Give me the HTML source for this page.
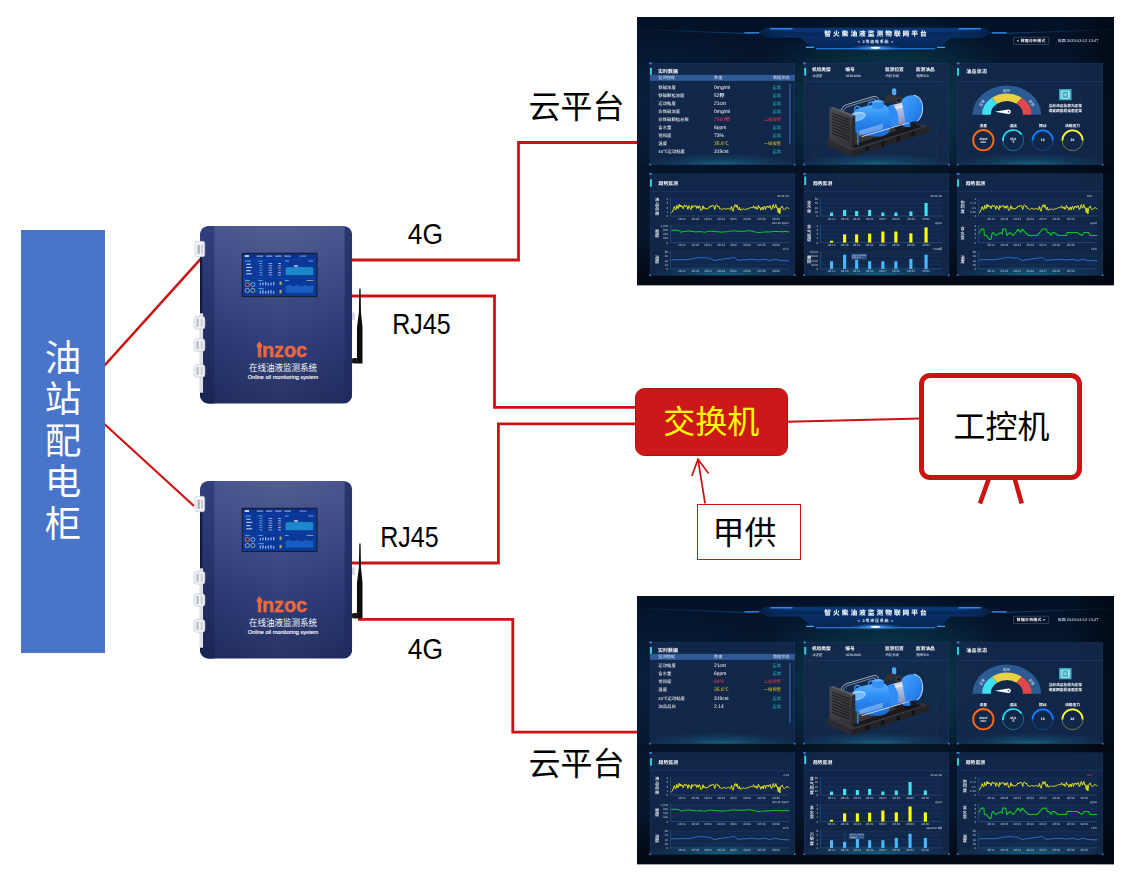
<!DOCTYPE html><html lang="zh-CN"><head><meta charset="utf-8"><title>在线油液监测系统</title><style>
html,body{margin:0;padding:0;background:#fff}
body{width:1129px;height:878px;overflow:hidden;position:relative;font-family:"Liberation Sans","Noto Sans CJK SC",sans-serif}
svg text{font-family:"Liberation Sans","Noto Sans CJK SC",sans-serif}
.abs{position:absolute}
.lbl{position:absolute;color:#000;white-space:nowrap;line-height:1}
.dash{position:absolute;width:1920px;height:1080px;transform-origin:0 0;transform:scale(0.24844);overflow:hidden;background:#04142a;color:#fff;text-rendering:geometricPrecision}
.dash .bg{position:absolute;left:0;top:0;width:1920px;height:1080px;
 background:
  radial-gradient(ellipse 560px 360px at 1000px 340px, rgba(24,135,140,.42), rgba(22,120,130,0) 100%),
  radial-gradient(ellipse 420px 300px at 120px 330px, rgba(14,50,90,.35), rgba(14,50,90,0) 100%),
  linear-gradient(to right, rgba(0,0,0,0) 90%, rgba(1,5,12,.55) 98.5%),
  linear-gradient(to bottom, #031126 0%, #04142b 12%, #06182f 30%, #06162c 80%, #030a16 96.5%)}
.dash .hd{position:absolute;left:0;top:0}
.dash .ov{position:absolute;left:0;top:0;overflow:visible}
.dash .title{position:absolute;left:0;top:46px;width:1920px;text-align:center;font-size:27px;font-weight:bold;letter-spacing:8px;text-indent:8px;line-height:40px;color:#fff;text-shadow:0 0 5px rgba(120,190,255,.45)}
.dash .sub{position:absolute;left:0;top:90px;width:1920px;text-align:center;font-size:16px;font-weight:bold;letter-spacing:3px;text-indent:3px;line-height:20px;color:#e8f2ff}
.dash .btn{position:absolute;left:1515px;top:81px;width:141px;height:28px;border:1.5px solid #b9c8e0;border-radius:3px;font-size:15.5px;font-weight:bold;line-height:28px;text-align:center;color:#fff;letter-spacing:1.2px}
.dash .date{position:absolute;left:1694px;top:85px;font-size:15.5px;letter-spacing:.3px;line-height:22px;color:#e4ecf8;white-space:nowrap}
.pn{position:absolute;box-sizing:border-box;border:1.5px solid #1f4c80;background:radial-gradient(ellipse 55% 11% at 50% 100%, rgba(26,150,170,.55) 0, rgba(22,120,150,.25) 50%, rgba(19,41,75,0) 100%), rgba(19,41,76,.88)}
.pn .c{position:absolute;width:7px;height:7px;background:#3b7dcb;border-radius:1px}
.pn .tl{left:-4px;top:-4px}.pn .tr{right:-4px;top:-4px}.pn .bl{left:-4px;bottom:-4px}.pn .br{right:-4px;bottom:-4px}
.bar{position:absolute;width:8px;height:30px;background:#30d2de}
.ttl{position:absolute;font-size:20px;font-weight:bold;line-height:28px;color:#fff;white-space:nowrap}
.dv{position:absolute;height:1.5px;background:#1d4477}
.th{position:absolute;height:24px;background:#2f5a96;font-size:17px;line-height:24px;color:#cfe0f7}
.th span{position:absolute;top:0;white-space:nowrap}
.tr{position:absolute;left:0;width:640px;height:24px;font-size:17.5px;line-height:24px;color:#fff}
.tr span{position:absolute;top:0;white-space:nowrap}
.ml{position:absolute;font-size:19px;font-weight:bold;line-height:22px;white-space:nowrap}
.ms{position:absolute;font-size:13.5px;line-height:18px;color:#e6edf8;white-space:nowrap}
.ax{font-size:12.5px;fill:#bcc8dc}
.un{font-size:11.5px;fill:#d5deee}
.vl{font-weight:500;fill:#fff}
</style></head><body>
<svg class="abs" style="left:0;top:0" width="1129" height="878" viewBox="0 0 1129 878">
<polyline points="350.0,260.0 518.5,260.0 518.5,142.5 640.0,142.5" fill="none" stroke="#cc1212" stroke-width="2.8" stroke-linejoin="miter"/>
<polyline points="350.0,296.0 494.5,296.0 494.5,407.3 640.0,407.3" fill="none" stroke="#cc1212" stroke-width="2.8" stroke-linejoin="miter"/>
<polyline points="350.0,563.0 498.4,563.0 498.4,423.8 640.0,423.8" fill="none" stroke="#cc1212" stroke-width="2.8" stroke-linejoin="miter"/>
<polyline points="358.0,619.3 512.8,619.3 512.8,732.2 640.0,732.2" fill="none" stroke="#cc1212" stroke-width="2.8" stroke-linejoin="miter"/>
<line x1="100" y1="370.5" x2="202.3" y2="257.2" stroke="#cc1212" stroke-width="2.6"/>
<line x1="100" y1="420" x2="194" y2="506" stroke="#cc1212" stroke-width="2.2"/>
<line x1="787" y1="421.7" x2="921" y2="418.6" stroke="#cc1212" stroke-width="2"/>
<polyline points="705.1,503.5 698,459.5" fill="none" stroke="#cc1212" stroke-width="1.7"/>
<polyline points="691.9,475.9 698,459.3 708.6,473.5" fill="none" stroke="#cc1212" stroke-width="1.7" stroke-linejoin="miter"/>
<line x1="988.7" y1="479" x2="980" y2="503.5" stroke="#cc1212" stroke-width="4.6"/>
<line x1="1014.8" y1="479" x2="1021.7" y2="503.5" stroke="#cc1212" stroke-width="4.6"/>
</svg>
<div class="abs" style="left:21px;top:230px;width:84px;height:423px;background:#4874c9"></div>
<div class="abs" style="left:21px;top:337.5px;width:84px;text-align:center;color:#fff;font-size:36.5px;line-height:41.6px">油<br>站<br>配<br>电<br>柜</div>
<svg style="position:absolute;left:188.46px;top:219.64px" width="181.05" height="190.61" viewBox="-12 -6 182 192" preserveAspectRatio="none"><defs><linearGradient id="dba" x1="0" y1="0" x2="0" y2="1"><stop offset="0" stop-color="#4a568e"/><stop offset=".3" stop-color="#3b4985"/><stop offset=".65" stop-color="#2a3874"/><stop offset="1" stop-color="#212c5e"/></linearGradient><linearGradient id="dsa" x1="0" y1="0" x2="0" y2="1"><stop offset="0" stop-color="#31407e"/><stop offset="1" stop-color="#1b2554"/></linearGradient><linearGradient id="dha" x1="0" y1="0" x2="1" y2="0"><stop offset="0" stop-color="#fff" stop-opacity="0"/><stop offset=".5" stop-color="#fff" stop-opacity=".04"/><stop offset="1" stop-color="#fff" stop-opacity="0"/></linearGradient><clipPath id="dca"><rect x="0" y="0" width="153" height="179" rx="9" ry="9"/></clipPath></defs><polygon points="160.2,63 161.5,63 161.9,87 163.4,102 163.4,138.6 157.8,138.6 157.9,102 159.8,87" fill="#0e0c0d"/><rect x="152.5" y="133" width="7" height="5.6" rx="2.2" fill="#1a1718"/><rect x="152.8" y="87" width="3" height="7.5" fill="#d5d8e0"/><g clip-path="url(#dca)"><rect x="0" y="0" width="153" height="179" fill="url(#dba)"/><rect x="0" y="0" width="14.5" height="179" fill="url(#dsa)"/><rect x="0" y="30" width="2.2" height="140" fill="#10183c"/><rect x="145.5" y="0" width="7.5" height="179" fill="#1f2b62" opacity=".75"/><rect x="14.5" y="0" width="131" height="179" fill="url(#dha)"/></g><rect x="-0.5" y="88" width="3.6" height="80" fill="#dfe2ea"/><rect x="-5" y="15.5" width="9.8" height="15.5" rx="2" fill="#f1f2f6" stroke="#c3c7d1" stroke-width=".6"/><rect x="-2.4" y="19" width="2.2" height="9" fill="#a9aebb"/><rect x="1" y="19" width="2" height="9" fill="#c9ccd6"/><rect x="-6" y="91.0" width="11" height="13" rx="3" fill="#eef0f4" stroke="#c3c7d1" stroke-width=".6"/><rect x="-3.4" y="93.5" width="2" height="8" fill="#b3b8c4"/><rect x="0.6" y="93.5" width="2.4" height="8" fill="#cfd3dc"/><rect x="-6" y="113.5" width="11" height="13" rx="3" fill="#eef0f4" stroke="#c3c7d1" stroke-width=".6"/><rect x="-3.4" y="116.0" width="2" height="8" fill="#b3b8c4"/><rect x="0.6" y="116.0" width="2.4" height="8" fill="#cfd3dc"/><rect x="-6" y="139.5" width="11" height="13" rx="3" fill="#eef0f4" stroke="#c3c7d1" stroke-width=".6"/><rect x="-3.4" y="142.0" width="2" height="8" fill="#b3b8c4"/><rect x="0.6" y="142.0" width="2.4" height="8" fill="#cfd3dc"/><rect x="42" y="27" width="76.3" height="44.6" fill="#1a1d2c"/><rect x="43.2" y="28.2" width="73.9" height="42.2" fill="#0c3fa3"/><rect x="43.2" y="28.2" width="73.9" height="4.4" fill="#0a3292"/><rect x="45" y="29.4" width="4.4" height="1.8" fill="#e7eefc" opacity=".9"/><rect x="57.0" y="29.8" width="6.5" height="1.2" fill="#b8cdf3" opacity=".75"/><rect x="66.3" y="29.8" width="6.5" height="1.2" fill="#b8cdf3" opacity=".75"/><rect x="75.6" y="29.8" width="6.5" height="1.2" fill="#b8cdf3" opacity=".75"/><rect x="84.9" y="29.8" width="6.5" height="1.2" fill="#b8cdf3" opacity=".75"/><rect x="100" y="29.8" width="7" height="1.2" fill="#9dd0ff" opacity=".6"/><rect x="44.6" y="33.8" width="11.6" height="17.8" fill="#0b3898"/><rect x="44.6" y="53.4" width="11.6" height="15.6" fill="#0b3898"/><rect x="57.6" y="33.8" width="25.4" height="17.8" fill="#0b3898"/><rect x="57.6" y="53.4" width="25.4" height="7.2" fill="#0b3898"/><rect x="57.6" y="61.8" width="25.4" height="7.2" fill="#0b3898"/><rect x="84.4" y="33.8" width="31.4" height="17.8" fill="#0b3898"/><rect x="84.4" y="53.4" width="31.4" height="15.6" fill="#0b3898"/><rect x="45.4" y="34.8" width="6" height="1.1" fill="#49c6e8" opacity=".8"/><rect x="58.6" y="34.8" width="4.5" height="1.1" fill="#49c6e8" opacity=".8"/><rect x="85.4" y="34.8" width="4" height="1.1" fill="#49c6e8" opacity=".8"/><rect x="45.4" y="54.4" width="5" height="1.1" fill="#49c6e8" opacity=".8"/><rect x="58.6" y="54.4" width="4.5" height="1.1" fill="#49c6e8" opacity=".8"/><rect x="85.4" y="54.4" width="4" height="1.1" fill="#49c6e8" opacity=".8"/><rect x="58.6" y="62.6" width="5.5" height="1.1" fill="#49c6e8" opacity=".8"/><rect x="46.5" y="38.0" width="4.5" height="1.2" fill="#dbe8ff" opacity=".8"/><rect x="46.5" y="41.2" width="6.0" height="1.2" fill="#dbe8ff" opacity=".8"/><rect x="46.5" y="44.4" width="4.5" height="1.2" fill="#dbe8ff" opacity=".8"/><rect x="46.5" y="47.6" width="6.0" height="1.2" fill="#dbe8ff" opacity=".8"/><rect x="59.5" y="37.4" width="3.4" height=".9" fill="#9fd4ff" opacity=".6"/><rect x="69" y="37.4" width="3.6" height=".9" fill="#e8f0ff" opacity=".65"/><rect x="78.6" y="37.4" width="2.8" height=".9" fill="#dfe9ff" opacity=".8"/><rect x="59.5" y="39.7" width="3.4" height=".9" fill="#9fd4ff" opacity=".6"/><rect x="69" y="39.7" width="3.6" height=".9" fill="#e8f0ff" opacity=".65"/><rect x="78.6" y="39.7" width="2.8" height=".9" fill="#dfe9ff" opacity=".8"/><rect x="59.5" y="42.0" width="3.4" height=".9" fill="#9fd4ff" opacity=".6"/><rect x="69" y="42.0" width="3.6" height=".9" fill="#e8f0ff" opacity=".65"/><rect x="78.6" y="42.0" width="2.8" height=".9" fill="#ffe24a" opacity=".8"/><rect x="59.5" y="44.3" width="3.4" height=".9" fill="#9fd4ff" opacity=".6"/><rect x="69" y="44.3" width="3.6" height=".9" fill="#e8f0ff" opacity=".65"/><rect x="78.6" y="44.3" width="2.8" height=".9" fill="#ff6a6a" opacity=".8"/><rect x="59.5" y="46.6" width="3.4" height=".9" fill="#9fd4ff" opacity=".6"/><rect x="69" y="46.6" width="3.6" height=".9" fill="#e8f0ff" opacity=".65"/><rect x="78.6" y="46.6" width="2.8" height=".9" fill="#dfe9ff" opacity=".8"/><rect x="59.5" y="48.9" width="3.4" height=".9" fill="#9fd4ff" opacity=".6"/><rect x="69" y="48.9" width="3.6" height=".9" fill="#e8f0ff" opacity=".65"/><rect x="78.6" y="48.9" width="2.8" height=".9" fill="#dfe9ff" opacity=".8"/><rect x="60.0" y="57.4" width="1.3" height="2.4" fill="#a9c8ff" opacity=".85"/><rect x="60.0" y="65.1" width="1.3" height="3.1" fill="#a9c8ff" opacity=".85"/><rect x="62.7" y="56.9" width="1.3" height="2.9" fill="#a9c8ff" opacity=".85"/><rect x="62.7" y="64.6" width="1.3" height="3.6" fill="#a9c8ff" opacity=".85"/><rect x="65.4" y="56.4" width="1.3" height="3.4" fill="#a9c8ff" opacity=".85"/><rect x="65.4" y="65.6" width="1.3" height="2.6" fill="#a9c8ff" opacity=".85"/><rect x="68.1" y="57.4" width="1.3" height="2.4" fill="#a9c8ff" opacity=".85"/><rect x="68.1" y="65.1" width="1.3" height="3.1" fill="#a9c8ff" opacity=".85"/><rect x="70.8" y="56.9" width="1.3" height="2.9" fill="#a9c8ff" opacity=".85"/><rect x="70.8" y="64.6" width="1.3" height="3.6" fill="#a9c8ff" opacity=".85"/><rect x="73.5" y="56.4" width="1.3" height="3.4" fill="#a9c8ff" opacity=".85"/><rect x="73.5" y="65.6" width="1.3" height="2.6" fill="#a9c8ff" opacity=".85"/><rect x="80" y="56" width="2" height="3.4" fill="#ffe24a" opacity=".7"/><rect x="80" y="64.4" width="2" height="3.4" fill="#ffe24a" opacity=".7"/><circle cx="47.7" cy="59" r="2.1" fill="none" stroke="#ff7a3c" stroke-width=".9" opacity=".9"/><circle cx="53.2" cy="59" r="2.1" fill="none" stroke="#bcd8ff" stroke-width=".8" opacity=".8"/><circle cx="47.7" cy="65" r="2.1" fill="none" stroke="#d8e6ff" stroke-width=".8" opacity=".8"/><circle cx="53.2" cy="65" r="2.1" fill="none" stroke="#f1e27a" stroke-width=".8" opacity=".8"/><polygon points="86,49.6 86,42 90,41.4 95,41.7 100,41.2 106,41.6 110,41.3 114,41.9 114,49.6" fill="#1e90cf" opacity=".9"/><polygon points="86,67.4 86,60.6 90,59.6 94,60.8 98,59.4 102,60.9 106,59.6 110,60.6 114,59.8 114,67.4" fill="#1a63c4" opacity=".9"/><rect x="94.5" y="39.7" width="4" height="1.2" fill="#fff" opacity=".95"/><rect x="109" y="34.8" width="5" height="1" fill="#cfe0ff" opacity=".6"/><rect x="107" y="54.4" width="7" height="1" fill="#e9dc7a" opacity=".6"/><path d="M59.8 116.2 C62 118.8 62.6 119.8 62.6 120.7 A2.8 2.2 0 0 1 57 120.7 C57 119.8 57.6 118.8 59.8 116.2 Z" fill="#f0683c"/><text x="56.8" y="132.3" font-weight="bold" font-size="20.6" fill="#f0683c" stroke="#f0683c" stroke-width=".35" textLength="51" lengthAdjust="spacingAndGlyphs">ınzoc</text><text x="83.5" y="146.2" text-anchor="middle" font-size="8.6" font-weight="400" fill="#f4f6fb" textLength="68.5" lengthAdjust="spacingAndGlyphs">在线油液监测系统</text><text x="83.5" y="154" text-anchor="middle" font-size="5.6" fill="#fff" stroke="#fff" stroke-width=".12" textLength="71" lengthAdjust="spacingAndGlyphs">Online oil monitoring system</text></svg>
<svg style="position:absolute;left:188.46px;top:474.64px" width="181.05" height="190.61" viewBox="-12 -6 182 192" preserveAspectRatio="none"><defs><linearGradient id="dbb" x1="0" y1="0" x2="0" y2="1"><stop offset="0" stop-color="#4a568e"/><stop offset=".3" stop-color="#3b4985"/><stop offset=".65" stop-color="#2a3874"/><stop offset="1" stop-color="#212c5e"/></linearGradient><linearGradient id="dsb" x1="0" y1="0" x2="0" y2="1"><stop offset="0" stop-color="#31407e"/><stop offset="1" stop-color="#1b2554"/></linearGradient><linearGradient id="dhb" x1="0" y1="0" x2="1" y2="0"><stop offset="0" stop-color="#fff" stop-opacity="0"/><stop offset=".5" stop-color="#fff" stop-opacity=".04"/><stop offset="1" stop-color="#fff" stop-opacity="0"/></linearGradient><clipPath id="dcb"><rect x="0" y="0" width="153" height="179" rx="9" ry="9"/></clipPath></defs><polygon points="160.2,63 161.5,63 161.9,87 163.4,102 163.4,138.6 157.8,138.6 157.9,102 159.8,87" fill="#0e0c0d"/><rect x="152.5" y="133" width="7" height="5.6" rx="2.2" fill="#1a1718"/><rect x="152.8" y="87" width="3" height="7.5" fill="#d5d8e0"/><g clip-path="url(#dcb)"><rect x="0" y="0" width="153" height="179" fill="url(#dbb)"/><rect x="0" y="0" width="14.5" height="179" fill="url(#dsb)"/><rect x="0" y="30" width="2.2" height="140" fill="#10183c"/><rect x="145.5" y="0" width="7.5" height="179" fill="#1f2b62" opacity=".75"/><rect x="14.5" y="0" width="131" height="179" fill="url(#dhb)"/></g><rect x="-0.5" y="88" width="3.6" height="80" fill="#dfe2ea"/><rect x="-5" y="15.5" width="9.8" height="15.5" rx="2" fill="#f1f2f6" stroke="#c3c7d1" stroke-width=".6"/><rect x="-2.4" y="19" width="2.2" height="9" fill="#a9aebb"/><rect x="1" y="19" width="2" height="9" fill="#c9ccd6"/><rect x="-6" y="91.0" width="11" height="13" rx="3" fill="#eef0f4" stroke="#c3c7d1" stroke-width=".6"/><rect x="-3.4" y="93.5" width="2" height="8" fill="#b3b8c4"/><rect x="0.6" y="93.5" width="2.4" height="8" fill="#cfd3dc"/><rect x="-6" y="113.5" width="11" height="13" rx="3" fill="#eef0f4" stroke="#c3c7d1" stroke-width=".6"/><rect x="-3.4" y="116.0" width="2" height="8" fill="#b3b8c4"/><rect x="0.6" y="116.0" width="2.4" height="8" fill="#cfd3dc"/><rect x="-6" y="139.5" width="11" height="13" rx="3" fill="#eef0f4" stroke="#c3c7d1" stroke-width=".6"/><rect x="-3.4" y="142.0" width="2" height="8" fill="#b3b8c4"/><rect x="0.6" y="142.0" width="2.4" height="8" fill="#cfd3dc"/><rect x="42" y="27" width="76.3" height="44.6" fill="#1a1d2c"/><rect x="43.2" y="28.2" width="73.9" height="42.2" fill="#0c3fa3"/><rect x="43.2" y="28.2" width="73.9" height="4.4" fill="#0a3292"/><rect x="45" y="29.4" width="4.4" height="1.8" fill="#e7eefc" opacity=".9"/><rect x="57.0" y="29.8" width="6.5" height="1.2" fill="#b8cdf3" opacity=".75"/><rect x="66.3" y="29.8" width="6.5" height="1.2" fill="#b8cdf3" opacity=".75"/><rect x="75.6" y="29.8" width="6.5" height="1.2" fill="#b8cdf3" opacity=".75"/><rect x="84.9" y="29.8" width="6.5" height="1.2" fill="#b8cdf3" opacity=".75"/><rect x="100" y="29.8" width="7" height="1.2" fill="#9dd0ff" opacity=".6"/><rect x="44.6" y="33.8" width="11.6" height="17.8" fill="#0b3898"/><rect x="44.6" y="53.4" width="11.6" height="15.6" fill="#0b3898"/><rect x="57.6" y="33.8" width="25.4" height="17.8" fill="#0b3898"/><rect x="57.6" y="53.4" width="25.4" height="7.2" fill="#0b3898"/><rect x="57.6" y="61.8" width="25.4" height="7.2" fill="#0b3898"/><rect x="84.4" y="33.8" width="31.4" height="17.8" fill="#0b3898"/><rect x="84.4" y="53.4" width="31.4" height="15.6" fill="#0b3898"/><rect x="45.4" y="34.8" width="6" height="1.1" fill="#49c6e8" opacity=".8"/><rect x="58.6" y="34.8" width="4.5" height="1.1" fill="#49c6e8" opacity=".8"/><rect x="85.4" y="34.8" width="4" height="1.1" fill="#49c6e8" opacity=".8"/><rect x="45.4" y="54.4" width="5" height="1.1" fill="#49c6e8" opacity=".8"/><rect x="58.6" y="54.4" width="4.5" height="1.1" fill="#49c6e8" opacity=".8"/><rect x="85.4" y="54.4" width="4" height="1.1" fill="#49c6e8" opacity=".8"/><rect x="58.6" y="62.6" width="5.5" height="1.1" fill="#49c6e8" opacity=".8"/><rect x="46.5" y="38.0" width="4.5" height="1.2" fill="#dbe8ff" opacity=".8"/><rect x="46.5" y="41.2" width="6.0" height="1.2" fill="#dbe8ff" opacity=".8"/><rect x="46.5" y="44.4" width="4.5" height="1.2" fill="#dbe8ff" opacity=".8"/><rect x="46.5" y="47.6" width="6.0" height="1.2" fill="#dbe8ff" opacity=".8"/><rect x="59.5" y="37.4" width="3.4" height=".9" fill="#9fd4ff" opacity=".6"/><rect x="69" y="37.4" width="3.6" height=".9" fill="#e8f0ff" opacity=".65"/><rect x="78.6" y="37.4" width="2.8" height=".9" fill="#dfe9ff" opacity=".8"/><rect x="59.5" y="39.7" width="3.4" height=".9" fill="#9fd4ff" opacity=".6"/><rect x="69" y="39.7" width="3.6" height=".9" fill="#e8f0ff" opacity=".65"/><rect x="78.6" y="39.7" width="2.8" height=".9" fill="#dfe9ff" opacity=".8"/><rect x="59.5" y="42.0" width="3.4" height=".9" fill="#9fd4ff" opacity=".6"/><rect x="69" y="42.0" width="3.6" height=".9" fill="#e8f0ff" opacity=".65"/><rect x="78.6" y="42.0" width="2.8" height=".9" fill="#ffe24a" opacity=".8"/><rect x="59.5" y="44.3" width="3.4" height=".9" fill="#9fd4ff" opacity=".6"/><rect x="69" y="44.3" width="3.6" height=".9" fill="#e8f0ff" opacity=".65"/><rect x="78.6" y="44.3" width="2.8" height=".9" fill="#ff6a6a" opacity=".8"/><rect x="59.5" y="46.6" width="3.4" height=".9" fill="#9fd4ff" opacity=".6"/><rect x="69" y="46.6" width="3.6" height=".9" fill="#e8f0ff" opacity=".65"/><rect x="78.6" y="46.6" width="2.8" height=".9" fill="#dfe9ff" opacity=".8"/><rect x="59.5" y="48.9" width="3.4" height=".9" fill="#9fd4ff" opacity=".6"/><rect x="69" y="48.9" width="3.6" height=".9" fill="#e8f0ff" opacity=".65"/><rect x="78.6" y="48.9" width="2.8" height=".9" fill="#dfe9ff" opacity=".8"/><rect x="60.0" y="57.4" width="1.3" height="2.4" fill="#a9c8ff" opacity=".85"/><rect x="60.0" y="65.1" width="1.3" height="3.1" fill="#a9c8ff" opacity=".85"/><rect x="62.7" y="56.9" width="1.3" height="2.9" fill="#a9c8ff" opacity=".85"/><rect x="62.7" y="64.6" width="1.3" height="3.6" fill="#a9c8ff" opacity=".85"/><rect x="65.4" y="56.4" width="1.3" height="3.4" fill="#a9c8ff" opacity=".85"/><rect x="65.4" y="65.6" width="1.3" height="2.6" fill="#a9c8ff" opacity=".85"/><rect x="68.1" y="57.4" width="1.3" height="2.4" fill="#a9c8ff" opacity=".85"/><rect x="68.1" y="65.1" width="1.3" height="3.1" fill="#a9c8ff" opacity=".85"/><rect x="70.8" y="56.9" width="1.3" height="2.9" fill="#a9c8ff" opacity=".85"/><rect x="70.8" y="64.6" width="1.3" height="3.6" fill="#a9c8ff" opacity=".85"/><rect x="73.5" y="56.4" width="1.3" height="3.4" fill="#a9c8ff" opacity=".85"/><rect x="73.5" y="65.6" width="1.3" height="2.6" fill="#a9c8ff" opacity=".85"/><rect x="80" y="56" width="2" height="3.4" fill="#ffe24a" opacity=".7"/><rect x="80" y="64.4" width="2" height="3.4" fill="#ffe24a" opacity=".7"/><circle cx="47.7" cy="59" r="2.1" fill="none" stroke="#ff7a3c" stroke-width=".9" opacity=".9"/><circle cx="53.2" cy="59" r="2.1" fill="none" stroke="#bcd8ff" stroke-width=".8" opacity=".8"/><circle cx="47.7" cy="65" r="2.1" fill="none" stroke="#d8e6ff" stroke-width=".8" opacity=".8"/><circle cx="53.2" cy="65" r="2.1" fill="none" stroke="#f1e27a" stroke-width=".8" opacity=".8"/><polygon points="86,49.6 86,42 90,41.4 95,41.7 100,41.2 106,41.6 110,41.3 114,41.9 114,49.6" fill="#1e90cf" opacity=".9"/><polygon points="86,67.4 86,60.6 90,59.6 94,60.8 98,59.4 102,60.9 106,59.6 110,60.6 114,59.8 114,67.4" fill="#1a63c4" opacity=".9"/><rect x="94.5" y="39.7" width="4" height="1.2" fill="#fff" opacity=".95"/><rect x="109" y="34.8" width="5" height="1" fill="#cfe0ff" opacity=".6"/><rect x="107" y="54.4" width="7" height="1" fill="#e9dc7a" opacity=".6"/><path d="M59.8 116.2 C62 118.8 62.6 119.8 62.6 120.7 A2.8 2.2 0 0 1 57 120.7 C57 119.8 57.6 118.8 59.8 116.2 Z" fill="#f0683c"/><text x="56.8" y="132.3" font-weight="bold" font-size="20.6" fill="#f0683c" stroke="#f0683c" stroke-width=".35" textLength="51" lengthAdjust="spacingAndGlyphs">ınzoc</text><text x="83.5" y="146.2" text-anchor="middle" font-size="8.6" font-weight="400" fill="#f4f6fb" textLength="68.5" lengthAdjust="spacingAndGlyphs">在线油液监测系统</text><text x="83.5" y="154" text-anchor="middle" font-size="5.6" fill="#fff" stroke="#fff" stroke-width=".12" textLength="71" lengthAdjust="spacingAndGlyphs">Online oil monitoring system</text></svg>
<div class="lbl" style="left:528.6px;top:91px;font-size:32px;line-height:32px">云平台</div>
<div class="lbl" style="left:528.4px;top:748px;font-size:32px;line-height:32px">云平台</div>
<svg class="abs" style="left:0;top:0" width="1129" height="878" viewBox="0 0 1129 878"><text x="407.8" y="244" font-size="29" textLength="35.2" lengthAdjust="spacingAndGlyphs">4G</text><text x="407.8" y="659.3" font-size="29" textLength="35.2" lengthAdjust="spacingAndGlyphs">4G</text><text x="392.2" y="333.9" font-size="29" textLength="58.4" lengthAdjust="spacingAndGlyphs">RJ45</text><text x="380.2" y="546.7" font-size="29" textLength="58.4" lengthAdjust="spacingAndGlyphs">RJ45</text></svg>
<div class="abs" style="left:635px;top:388px;width:152.5px;height:67.5px;box-sizing:border-box;background:#cc1818;border:1.5px solid #a51414;border-radius:9.5px;color:#ffff00;font-size:32px;line-height:66.5px;text-align:center">交换机</div>
<div class="abs" style="left:919px;top:373px;width:163px;height:107px;box-sizing:border-box;background:#fff;border:5px solid #cc1212;border-radius:11px;color:#000;font-size:32px;line-height:99px;text-align:center;text-indent:2px">工控机</div>
<div class="abs" style="left:696.5px;top:503.5px;width:104px;height:56px;box-sizing:border-box;background:#fff;border:1.6px solid #cc1212;color:#000;font-size:32px;line-height:56.5px;text-align:center;text-indent:-8px">甲供</div>
<div class="dash" style="left:637px;top:17px"><div class="bg"></div>
<div style="position:absolute;left:0;top:596px;width:1920px;height:34px;background:linear-gradient(to right, rgba(2,6,14,.15), rgba(2,6,14,.6))"></div>
<svg class="hd" width="1920" height="170" viewBox="0 0 1920 170"><defs><linearGradient id="hg" x1="0" y1="0" x2="0" y2="1"><stop offset="0" stop-color="#0a3a7c" stop-opacity=".95"/><stop offset="1" stop-color="#062658" stop-opacity=".85"/></linearGradient><linearGradient id="hm" x1="0" y1="0" x2="1" y2="0"><stop offset="0" stop-color="#fff" stop-opacity=".25"/><stop offset=".14" stop-color="#fff" stop-opacity="1"/><stop offset=".86" stop-color="#fff" stop-opacity="1"/><stop offset="1" stop-color="#fff" stop-opacity=".25"/></linearGradient><mask id="hk"><rect x="470" y="30" width="980" height="110" fill="url(#hm)"/></mask><linearGradient id="ll" x1="0" y1="0" x2="1" y2="0"><stop offset="0" stop-color="#1c5aa8" stop-opacity=".12"/><stop offset="1" stop-color="#2b7fe0" stop-opacity=".7"/></linearGradient><linearGradient id="lr" x1="1" y1="0" x2="0" y2="0"><stop offset="0" stop-color="#1c5aa8" stop-opacity=".12"/><stop offset="1" stop-color="#2b7fe0" stop-opacity=".7"/></linearGradient><radialGradient id="glow"><stop offset="0" stop-color="#eaf6ff"/><stop offset=".15" stop-color="#69b8ff" stop-opacity=".9"/><stop offset="1" stop-color="#1a6fe0" stop-opacity="0"/></radialGradient><filter id="bl"><feGaussianBlur stdDeviation="3"/></filter></defs><polygon points="524.0,43.0 1396.0,43.0 1430.0,62.0 1390.0,82.0 1262.0,82.0 1226.0,113.0 1200.0,128.0 720.0,128.0 694.0,113.0 658.0,82.0 530.0,82.0 490.0,62.0" fill="url(#hg)" mask="url(#hk)"/><polyline points="1430.0,62.0 1390.0,82.0 1262.0,82.0 1226.0,113.0 1200.0,128.0 720.0,128.0 694.0,113.0 658.0,82.0 530.0,82.0 490.0,62.0 524.0,43.0" fill="none" stroke="#1f6fd0" stroke-width="1.6" opacity=".45"/><polygon points="560.0,60.0 1360.0,60.0 1340.0,74.0 580.0,74.0" fill="#06224e" opacity=".55"/><line x1="0" y1="50" x2="432" y2="66" stroke="url(#ll)" stroke-width="2.5"/><line x1="1920" y1="50" x2="1488" y2="66" stroke="url(#lr)" stroke-width="2.5"/><line x1="432" y1="64" x2="492" y2="64" stroke="#2b8cff" stroke-width="7" filter="url(#bl)"/><line x1="432" y1="64" x2="492" y2="64" stroke="#3f9dff" stroke-width="5"/><line x1="1428" y1="64" x2="1488" y2="64" stroke="#2b8cff" stroke-width="7" filter="url(#bl)"/><line x1="1428" y1="64" x2="1488" y2="64" stroke="#3f9dff" stroke-width="5"/><line x1="536" y1="47" x2="626" y2="47" stroke="#2b8cff" stroke-width="8" filter="url(#bl)"/><line x1="536" y1="47" x2="626" y2="47" stroke="#2f86f0" stroke-width="6"/><line x1="1294" y1="47" x2="1384" y2="47" stroke="#2b8cff" stroke-width="8" filter="url(#bl)"/><line x1="1294" y1="47" x2="1384" y2="47" stroke="#2f86f0" stroke-width="6"/><line x1="680" y1="122" x2="712" y2="122" stroke="#35a8ff" stroke-width="5"/><line x1="1208" y1="122" x2="1240" y2="122" stroke="#35a8ff" stroke-width="5"/><line x1="720" y1="128" x2="1200" y2="128" stroke="#2b8cff" stroke-width="4"/><ellipse cx="960" cy="124" rx="110" ry="13" fill="url(#glow)" opacity=".85"/><ellipse cx="960" cy="124" rx="20" ry="4.5" fill="#f4fbff"/></svg>
<div class="title">智火柴油液监测物联网平台</div>
<div class="sub">&lt; 2号齿轮系统 &gt;</div>
<div class="btn">&lt; 数据分析模式</div>
<div class="date">周四 2023-02-12 13:47</div>
<div class="pn" style="left:52px;top:186px;width:584px;height:409px"><i class="c tl"></i><i class="c tr"></i><i class="c bl"></i><i class="c br"></i></div>
<div class="pn" style="left:672px;top:186px;width:584px;height:409px"><i class="c tl"></i><i class="c tr"></i><i class="c bl"></i><i class="c br"></i></div>
<div class="pn" style="left:1290px;top:186px;width:585px;height:409px"><i class="c tl"></i><i class="c tr"></i><i class="c bl"></i><i class="c br"></i></div>
<div class="pn" style="left:52px;top:631px;width:584px;height:409px"><i class="c tl"></i><i class="c tr"></i><i class="c bl"></i><i class="c br"></i></div>
<div class="pn" style="left:672px;top:631px;width:584px;height:409px"><i class="c tl"></i><i class="c tr"></i><i class="c bl"></i><i class="c br"></i></div>
<div class="pn" style="left:1290px;top:631px;width:585px;height:409px"><i class="c tl"></i><i class="c tr"></i><i class="c bl"></i><i class="c br"></i></div>
<div class="bar" style="left:52px;top:205px;height:28px"></div>
<div class="ttl" style="left:85px;top:206px">实时数据</div>
<div class="th" style="left:52px;top:233px;width:584px"><span style="left:34px">监测指标</span><span style="left:258px">数值</span><span style="right:21px">数据状态</span></div>
<div class="tr" style="top:271.0px"><span style="left:86px">铁磁浓度</span><span style="left:310px;color:#fff;font-size:20px">0mg/ml</span><span style="left:380px;width:200px;text-align:right;color:#20c9c9">正常</span></div>
<div class="tr" style="top:303.4px"><span style="left:86px">铁磁颗粒浓度</span><span style="left:310px;color:#fff;font-size:20px">52颗</span><span style="left:380px;width:200px;text-align:right;color:#20c9c9">正常</span></div>
<div class="tr" style="top:335.8px"><span style="left:86px">运动粘度</span><span style="left:310px;color:#fff;font-size:20px">21cst</span><span style="left:380px;width:200px;text-align:right;color:#20c9c9">正常</span></div>
<div class="tr" style="top:368.2px"><span style="left:86px">非铁磁浓度</span><span style="left:310px;color:#fff;font-size:20px">0mg/ml</span><span style="left:380px;width:200px;text-align:right;color:#20c9c9">正常</span></div>
<div class="tr" style="top:400.6px"><span style="left:86px">非铁磁颗粒总数</span><span style="left:310px;color:#e8364a;font-size:20px">2560颗</span><span style="left:380px;width:200px;text-align:right;color:#e8364a">二级报警</span></div>
<div class="tr" style="top:433.0px"><span style="left:86px">含水量</span><span style="left:310px;color:#fff;font-size:20px">6ppm</span><span style="left:380px;width:200px;text-align:right;color:#20c9c9">正常</span></div>
<div class="tr" style="top:465.4px"><span style="left:86px">饱和度</span><span style="left:310px;color:#fff;font-size:20px">73%</span><span style="left:380px;width:200px;text-align:right;color:#20c9c9">正常</span></div>
<div class="tr" style="top:497.8px"><span style="left:86px">温度</span><span style="left:310px;color:#e9c81e;font-size:20px">35.6℃</span><span style="left:380px;width:200px;text-align:right;color:#e9c81e">一级报警</span></div>
<div class="tr" style="top:530.2px"><span style="left:86px">40℃运动粘度</span><span style="left:310px;color:#fff;font-size:20px">319cst</span><span style="left:380px;width:200px;text-align:right;color:#20c9c9">正常</span></div>
<div style="position:absolute;left:612px;top:270px;width:6px;height:242px;background:#2c5aa0"></div>
<div class="bar" style="left:673px;top:205px;height:31px"></div>
<div class="ml" style="left:704px;top:201px">机组类型</div>
<div class="ms" style="left:706px;top:228px">水泥磨</div>
<div class="ml" style="left:838px;top:201px">编号</div>
<div class="ms" style="left:840px;top:228px">02304000</div>
<div class="ml" style="left:998px;top:201px">监测位置</div>
<div class="ms" style="left:1000px;top:228px">齿轮系统</div>
<div class="ml" style="left:1122px;top:201px">监测油品</div>
<div class="ms" style="left:1124px;top:228px">壳牌320</div>
<div class="dv" style="left:673px;top:258px;width:582px"></div>
<div style="position:absolute;left:710px;top:280px;width:496px;height:292px;border:1.5px solid #1e426e;box-sizing:border-box"></div>
<svg class="ov" width="1920" height="1080" viewBox="0 0 1920 1080"><defs><linearGradient id="mb" x1="0" y1="0" x2="0" y2="1"><stop offset="0" stop-color="#5fb2ff"/><stop offset=".4" stop-color="#2f8ff6"/><stop offset="1" stop-color="#1b68d2"/></linearGradient><linearGradient id="mm" x1="0" y1="0" x2="1" y2="1"><stop offset="0" stop-color="#4aa4ff"/><stop offset=".6" stop-color="#2a86f0"/><stop offset="1" stop-color="#1f6fd8"/></linearGradient><linearGradient id="ms" x1="0" y1="0" x2="0" y2="1"><stop offset="0" stop-color="#d9def2"/><stop offset=".45" stop-color="#a9b2d6"/><stop offset="1" stop-color="#7f8cc0"/></linearGradient><linearGradient id="mr" x1="0" y1="0" x2="1" y2="1"><stop offset="0" stop-color="#4b4b51"/><stop offset="1" stop-color="#303035"/></linearGradient></defs><g transform="translate(736.6 253.6) scale(0.4278)"><polygon points="65,558 620,380 1030,432 300,667" fill="#36363b"/><polygon points="150,560 330,640 960,440 900,415 340,600 200,545" fill="#19191c"/><polygon points="65,558 300,667 300,720 65,612" fill="#2b2b30"/><polygon points="300,667 1030,432 1030,490 300,720" fill="#232327"/><polygon points="430,631 462,621 462,663 430,673" fill="#121215"/><polygon points="575,584 607,574 607,616 575,626" fill="#121215"/><polygon points="720,538 752,528 752,570 720,580" fill="#121215"/><polygon points="862,492 894,482 894,524 862,534" fill="#121215"/><polygon points="690,445 880,392 905,432 735,492" fill="#1c1c20"/><polygon points="790,430 845,415 850,470 800,480" fill="#141417"/><path d="M760 230 Q765 165 830 148 L885 140 Q960 170 962 265 Q960 350 915 385 L850 398 Q790 405 772 380 Z" fill="url(#mm)"/><path d="M885 140 Q968 165 966 268 Q962 350 915 387" fill="none" stroke="#b9d8ff" stroke-width="10"/><path d="M772 380 Q800 410 850 398 L850 440 Q800 450 775 430 Z" fill="#2379e2"/><polygon points="660,240 770,212 805,400 700,432" fill="url(#ms)"/><polygon points="672,262 775,236 779,256 676,283" fill="#eef1fb" opacity=".75"/><path d="M610 262 Q650 232 700 240 L738 420 Q700 450 640 438 Z" fill="#2a84ee"/><ellipse cx="690" cy="340" rx="45" ry="95" fill="#2f8cf4" transform="rotate(-10 690 340)"/><path d="M315 300 Q330 270 420 250 L560 222 Q630 222 648 290 L655 470 Q640 525 560 533 Q470 535 400 510 L330 490 Z" fill="url(#mb)"/><ellipse cx="345" cy="345" rx="88" ry="42" fill="#b4daff" opacity=".85" transform="rotate(-14 345 345)"/><ellipse cx="350" cy="350" rx="70" ry="30" fill="#6db6ff" opacity=".9" transform="rotate(-14 350 350)"/><path d="M488 260 L488 205 Q540 180 600 200 L605 262 Q545 285 488 260 Z" fill="#348ff5"/><path d="M488 205 Q540 180 600 200 Q545 222 488 205 Z" fill="#6cb8ff"/><path d="M325 282 q0 -34 28 -34 q28 0 28 30" fill="none" stroke="#3f9bff" stroke-width="11"/><path d="M455 240 q0 -34 28 -34 q28 0 28 28" fill="none" stroke="#3f9bff" stroke-width="11"/><rect x="677" y="78" width="40" height="70" rx="19" fill="#4eaaff"/><polygon points="595,200 625,150 660,130 765,165 748,218 650,200 615,222" fill="#303035"/><circle cx="741" cy="190" r="27" fill="#3c3c42"/><circle cx="741" cy="190" r="13" fill="#131316"/><path d="M198 290 Q205 245 262 228 L505 155 Q540 150 552 185" fill="none" stroke="#f3f5fb" stroke-width="6"/><path d="M218 300 Q224 262 272 246 L500 178 Q520 174 530 195" fill="none" stroke="#dfe4f2" stroke-width="5"/><polygon points="370,476 592,410 592,456 370,522" fill="#2a7fe6"/><line x1="370" y1="481" x2="592" y2="415" stroke="#e3ebfb" stroke-width="3"/><line x1="370" y1="489" x2="592" y2="423" stroke="#e3ebfb" stroke-width="3"/><line x1="370" y1="497" x2="592" y2="431" stroke="#e3ebfb" stroke-width="3"/><line x1="370" y1="505" x2="592" y2="439" stroke="#e3ebfb" stroke-width="3"/><line x1="370" y1="513" x2="592" y2="447" stroke="#e3ebfb" stroke-width="3"/><line x1="370" y1="521" x2="592" y2="455" stroke="#e3ebfb" stroke-width="3"/><line x1="392" y1="533" x2="838" y2="400" stroke="#e9ecf5" stroke-width="8"/><line x1="356" y1="470" x2="356" y2="612" stroke="#3a92f6" stroke-width="11"/><polygon points="90,262 122,254 332,335 300,345" fill="#5d5d63"/><polygon points="300,345 332,335 332,612 300,627" fill="#2a2a2e"/><polygon points="90,262 300,345 300,627 90,547" fill="url(#mr)"/><polygon points="112,305 278,370 278,383 112,318" fill="#222226"/><polygon points="112,332 278,397 278,410 112,345" fill="#222226"/><polygon points="112,359 278,424 278,437 112,372" fill="#222226"/><polygon points="112,386 278,451 278,464 112,399" fill="#222226"/><polygon points="112,413 278,478 278,491 112,426" fill="#222226"/><polygon points="112,440 278,505 278,518 112,453" fill="#222226"/><polygon points="112,467 278,532 278,545 112,480" fill="#222226"/><polygon points="112,494 278,559 278,572 112,507" fill="#222226"/></g></svg>
<div class="bar" style="left:1288px;top:205px;height:31px"></div>
<div class="ttl" style="left:1325px;top:207px;letter-spacing:1.5px">油品状态</div>
<div class="dv" style="left:1291px;top:258px;width:583px"></div>
<svg class="ov" width="1920" height="1080" viewBox="0 0 1920 1080"><g transform="translate(1488.7 393.2) scale(1 0.85) translate(-1488.7 -393.2)"><path d="M1350.7 393.2 A138.0 138.0 0 0 1 1626.7 393.2 L1587.7 393.2 A99.0 99.0 0 0 0 1389.7 393.2 Z" fill="#2c5a92"/><path d="M1388.7 393.2 A100.0 100.0 0 0 1 1428.5 313.3 L1449.6 341.3 A65.0 65.0 0 0 0 1423.7 393.2 Z" fill="#3fe0f2"/><path d="M1428.5 313.3 A100.0 100.0 0 0 1 1548.9 313.3 L1527.8 341.3 A65.0 65.0 0 0 0 1449.6 341.3 Z" fill="#e8d244"/><path d="M1548.9 313.3 A100.0 100.0 0 0 1 1588.7 393.2 L1553.7 393.2 A65.0 65.0 0 0 0 1527.8 341.3 Z" fill="#e0484c"/></g><text transform="translate(1389.2 346.7) rotate(-58.0)" text-anchor="middle" y="5" font-size="14.5" fill="#e6eefc">正常</text><text transform="translate(1487.1 295.2) rotate(0.0)" text-anchor="middle" y="5" font-size="14.5" fill="#e6eefc">风险</text><text transform="translate(1588.2 346.7) rotate(58.0)" text-anchor="middle" y="5" font-size="14.5" fill="#e6eefc">异常</text><path d="M1440.7 381.3 L1493.5 372.2 A9.3 9.3 0 1 1 1493.5 390.4 Z" fill="#fff"/><circle cx="1495.5" cy="381.3" r="3.4" fill="#1b3257"/><rect x="1699" y="290" width="50" height="45" fill="#3ab2c4"/><rect x="1711" y="298" width="26" height="29" fill="none" stroke="#fff" stroke-width="2.5"/><line x1="1707" y1="298" x2="1707" y2="327" stroke="#fff" stroke-width="2"/><line x1="1741" y1="298" x2="1741" y2="327" stroke="#fff" stroke-width="2"/><circle cx="1724" cy="313" r="4.5" fill="none" stroke="#fff" stroke-width="2"/><text x="1724" y="362" text-anchor="middle" font-size="15" fill="#fff" font-weight="bold">当前油品状态为正常</text><text x="1724" y="381" text-anchor="middle" font-size="15" fill="#fff" font-weight="bold">请定期查看是否正常</text><text x="1394" y="442" text-anchor="middle" font-size="15" fill="#fff" font-weight="bold">流量</text><circle cx="1394" cy="496" r="41" fill="none" stroke="#ff6a12" stroke-width="7.5"/><text x="1394" y="494" text-anchor="middle" font-size="13" fill="#fff" font-weight="bold">30ml/</text><text x="1394" y="509" text-anchor="middle" font-size="13" fill="#fff" font-weight="bold">min</text><text x="1514" y="442" text-anchor="middle" font-size="15" fill="#fff" font-weight="bold">温度</text><circle cx="1514" cy="496" r="42" fill="none" stroke="#21e3f2" stroke-width="2" opacity=".8"/><path d="M1469.7 499.9 A44.5 44.5 0 0 1 1550.5 470.5 L1544.3 474.8 A37.0 37.0 0 0 0 1477.1 499.2 Z" fill="#21e3f2"/><text x="1514" y="494" text-anchor="middle" font-size="13" fill="#fff" font-weight="bold">35.6</text><text x="1514" y="509" text-anchor="middle" font-size="13" fill="#fff" font-weight="bold">℃</text><text x="1633" y="442" text-anchor="middle" font-size="15" fill="#fff" font-weight="bold">振动</text><circle cx="1633" cy="496" r="42" fill="none" stroke="#0f7dff" stroke-width="2" opacity=".8"/><path d="M1588.5 497.6 A44.5 44.5 0 1 1 1677.5 497.6 L1670.0 497.3 A37.0 37.0 0 1 0 1596.0 497.3 Z" fill="#0f7dff"/><text x="1633" y="501" text-anchor="middle" font-size="14" fill="#fff" font-weight="bold">16</text><text x="1753" y="442" text-anchor="middle" font-size="15" fill="#fff" font-weight="bold">油路压力</text><circle cx="1753" cy="496" r="42" fill="none" stroke="#f6f631" stroke-width="2" opacity=".8"/><path d="M1708.5 497.6 A44.5 44.5 0 1 1 1797.5 497.6 L1790.0 497.3 A37.0 37.0 0 1 0 1716.0 497.3 Z" fill="#f6f631"/><text x="1753" y="501" text-anchor="middle" font-size="14" fill="#fff" font-weight="bold">26</text></svg>
<div class="bar" style="left:52px;top:653px;height:30px"></div><div class="ttl" style="left:87px;top:657px;font-size:19.5px">趋势监测</div><div class="dv" style="left:53px;top:701px;width:582px"></div>
<div class="bar" style="left:673px;top:642px;height:34px"></div><div class="ttl" style="left:708px;top:657px;font-size:19.5px">趋势监测</div><div class="dv" style="left:674px;top:701px;width:582px"></div>
<div class="bar" style="left:1288px;top:653px;height:30px"></div><div class="ttl" style="left:1323px;top:657px;font-size:19.5px">趋势监测</div><div class="dv" style="left:1289px;top:701px;width:582px"></div>
<svg class="ov" width="1920" height="1080" viewBox="0 0 1920 1080"><line x1="135.0" y1="733.0" x2="613.0" y2="733.0" stroke="#1d477c" stroke-width="1.2"/><line x1="135.0" y1="750.0" x2="613.0" y2="750.0" stroke="#1d477c" stroke-width="1.2"/><line x1="135.0" y1="767.0" x2="613.0" y2="767.0" stroke="#1d477c" stroke-width="1.2"/><line x1="135.0" y1="784.0" x2="613.0" y2="784.0" stroke="#1d477c" stroke-width="1.2"/><line x1="135.0" y1="801.0" x2="613.0" y2="801.0" stroke="#2a67ad" stroke-width="2"/><rect x="135.0" y="733.0" width="478.0" height="17.0" fill="#1a3c6c" opacity="0.16"/><rect x="135.0" y="767.0" width="478.0" height="17.0" fill="#1a3c6c" opacity="0.16"/><line x1="135.0" y1="729.0" x2="135.0" y2="801.0" stroke="#2a67ad" stroke-width="2"/><text x="126.0" y="737.5" text-anchor="end" class="ax">4</text><text x="126.0" y="754.5" text-anchor="end" class="ax">3</text><text x="126.0" y="771.5" text-anchor="end" class="ax">2</text><text x="126.0" y="788.5" text-anchor="end" class="ax">1</text><text x="126.0" y="805.5" text-anchor="end" class="ax">0</text><text x="181.6" y="815.5" text-anchor="middle" class="ax">08:15</text><text x="234.7" y="815.5" text-anchor="middle" class="ax">08:18</text><text x="286.0" y="815.5" text-anchor="middle" class="ax">08:21</text><text x="339.0" y="815.5" text-anchor="middle" class="ax">08:24</text><text x="390.0" y="815.5" text-anchor="middle" class="ax">08:27</text><text x="443.0" y="815.5" text-anchor="middle" class="ax">08:30</text><text x="501.0" y="815.5" text-anchor="middle" class="ax">08:33</text><text x="560.0" y="815.5" text-anchor="middle" class="ax">08:36</text><text x="80.7" y="742.6" text-anchor="middle" class="vl" font-size="17">油</text><text x="80.7" y="760.6" text-anchor="middle" class="vl" font-size="17">品</text><text x="80.7" y="778.6" text-anchor="middle" class="vl" font-size="17">品</text><text x="80.7" y="796.6" text-anchor="middle" class="vl" font-size="17">质</text><text x="611.0" y="726.0" text-anchor="end" class="un">45.99 cst</text><line x1="135.0" y1="840.0" x2="613.0" y2="840.0" stroke="#1d477c" stroke-width="1.2"/><line x1="135.0" y1="857.0" x2="613.0" y2="857.0" stroke="#1d477c" stroke-width="1.2"/><line x1="135.0" y1="874.0" x2="613.0" y2="874.0" stroke="#1d477c" stroke-width="1.2"/><line x1="135.0" y1="891.0" x2="613.0" y2="891.0" stroke="#1d477c" stroke-width="1.2"/><line x1="135.0" y1="908.0" x2="613.0" y2="908.0" stroke="#2a67ad" stroke-width="2"/><rect x="135.0" y="840.0" width="478.0" height="17.0" fill="#1a3c6c" opacity="0.16"/><rect x="135.0" y="874.0" width="478.0" height="17.0" fill="#1a3c6c" opacity="0.16"/><line x1="135.0" y1="836.0" x2="135.0" y2="908.0" stroke="#2a67ad" stroke-width="2"/><text x="126.0" y="844.5" text-anchor="end" class="ax">1,200</text><text x="126.0" y="861.5" text-anchor="end" class="ax">900</text><text x="126.0" y="878.5" text-anchor="end" class="ax">600</text><text x="126.0" y="895.5" text-anchor="end" class="ax">300</text><text x="126.0" y="912.5" text-anchor="end" class="ax">0</text><text x="181.6" y="921.0" text-anchor="middle" class="ax">08:15</text><text x="234.7" y="921.0" text-anchor="middle" class="ax">08:18</text><text x="286.0" y="921.0" text-anchor="middle" class="ax">08:21</text><text x="339.0" y="921.0" text-anchor="middle" class="ax">08:24</text><text x="390.0" y="921.0" text-anchor="middle" class="ax">08:27</text><text x="443.0" y="921.0" text-anchor="middle" class="ax">08:30</text><text x="501.0" y="921.0" text-anchor="middle" class="ax">08:33</text><text x="560.0" y="921.0" text-anchor="middle" class="ax">08:36</text><text x="80.7" y="867.6" text-anchor="middle" class="vl" font-size="17">密</text><text x="80.7" y="885.6" text-anchor="middle" class="vl" font-size="17">度</text><text x="611.0" y="833.0" text-anchor="end" class="un">841.85 kg/m³</text><line x1="135.0" y1="946.6" x2="613.0" y2="946.6" stroke="#1d477c" stroke-width="1.2"/><line x1="135.0" y1="963.5" x2="613.0" y2="963.5" stroke="#1d477c" stroke-width="1.2"/><line x1="135.0" y1="980.3" x2="613.0" y2="980.3" stroke="#1d477c" stroke-width="1.2"/><line x1="135.0" y1="997.1" x2="613.0" y2="997.1" stroke="#1d477c" stroke-width="1.2"/><line x1="135.0" y1="1014.0" x2="613.0" y2="1014.0" stroke="#2a67ad" stroke-width="2"/><rect x="135.0" y="946.6" width="478.0" height="16.8" fill="#1a3c6c" opacity="0.16"/><rect x="135.0" y="980.3" width="478.0" height="16.8" fill="#1a3c6c" opacity="0.16"/><line x1="135.0" y1="942.6" x2="135.0" y2="1014.0" stroke="#2a67ad" stroke-width="2"/><text x="126.0" y="951.1" text-anchor="end" class="ax">80</text><text x="126.0" y="968.0" text-anchor="end" class="ax">60</text><text x="126.0" y="984.8" text-anchor="end" class="ax">40</text><text x="126.0" y="1001.6" text-anchor="end" class="ax">20</text><text x="126.0" y="1018.5" text-anchor="end" class="ax">0</text><text x="181.6" y="1026.5" text-anchor="middle" class="ax">08:15</text><text x="234.7" y="1026.5" text-anchor="middle" class="ax">08:18</text><text x="286.0" y="1026.5" text-anchor="middle" class="ax">08:21</text><text x="339.0" y="1026.5" text-anchor="middle" class="ax">08:24</text><text x="390.0" y="1026.5" text-anchor="middle" class="ax">08:27</text><text x="443.0" y="1026.5" text-anchor="middle" class="ax">08:30</text><text x="501.0" y="1026.5" text-anchor="middle" class="ax">08:33</text><text x="560.0" y="1026.5" text-anchor="middle" class="ax">08:36</text><text x="80.7" y="973.9" text-anchor="middle" class="vl" font-size="17">温</text><text x="80.7" y="991.9" text-anchor="middle" class="vl" font-size="17">度</text><text x="611.0" y="939.6" text-anchor="end" class="un">31℃</text><polyline points="138.0,788.8 141.2,786.0 144.4,780.6 147.6,770.4 150.8,763.1 153.9,775.0 157.1,775.9 160.3,757.7 163.5,770.1 166.7,770.5 169.9,753.8 173.1,765.1 176.3,757.0 179.4,764.8 182.6,761.3 185.8,771.9 189.0,761.4 192.2,756.4 195.4,764.0 198.6,759.4 201.8,761.1 204.9,774.5 208.1,759.6 211.3,763.5 214.5,770.1 217.7,776.2 220.9,758.4 224.1,767.2 227.3,762.2 230.4,759.0 233.6,762.9 236.8,758.6 240.0,770.4 243.2,761.8 246.4,769.8 249.6,759.4 252.8,760.8 256.0,778.0 259.1,777.3 262.3,775.7 265.5,759.5 268.7,771.1 271.9,767.0 275.1,774.0 278.3,769.5 281.5,772.1 284.6,772.8 287.8,767.5 291.0,767.4 294.2,760.2 297.4,764.8 300.6,759.2 303.8,760.6 307.0,757.4 310.1,764.0 313.3,774.8 316.5,759.3 319.7,756.8 322.9,757.8 326.1,764.8 329.3,761.3 332.5,772.0 335.7,771.4 338.8,774.6 342.0,773.4 345.2,773.3 348.4,770.6 351.6,772.8 354.8,770.5 358.0,774.2 361.2,773.3 364.3,771.6 367.5,770.3 370.7,772.7 373.9,773.9 377.1,774.5 380.3,762.2 383.5,774.8 386.7,782.0 389.8,769.0 393.0,757.3 396.2,755.4 399.4,766.0 402.6,755.6 405.8,770.9 409.0,776.3 412.2,765.2 415.3,777.8 418.5,775.9 421.7,773.6 424.9,775.5 428.1,772.1 431.3,772.0 434.5,775.5 437.7,775.0 440.9,772.1 444.0,773.0 447.2,772.1 450.4,770.6 453.6,769.3 456.8,766.6 460.0,767.6 463.2,768.3 466.4,766.8 469.5,759.7 472.7,769.0 475.9,770.4 479.1,763.9 482.3,774.2 485.5,772.5 488.7,757.5 491.9,767.2 495.0,766.3 498.2,777.7 501.4,768.6 504.6,764.7 507.8,776.6 511.0,763.3 514.2,762.7 517.4,774.9 520.6,762.3 523.7,765.6 526.9,760.8 530.1,767.8 533.3,760.0 536.5,759.2 539.7,774.7 542.9,773.8 546.1,760.5 549.2,754.3 552.4,769.8 555.6,765.5 558.8,754.8 562.0,768.7 565.2,768.0 568.4,787.4 571.6,768.3 574.7,792.8 577.9,770.3 581.1,763.6 584.3,760.7 587.5,771.2 590.7,774.0 593.9,775.0 597.1,772.9 600.2,769.2 603.4,767.0 606.6,767.9 609.8,770.7 613.0,772.5" fill="none" stroke="#f0ee22" stroke-width="3.7" stroke-linejoin="round"/><polyline points="138.0,861.7 146.1,858.0 154.1,857.0 162.2,860.4 170.2,860.0 178.3,866.9 186.3,863.7 194.4,863.7 202.4,861.7 210.5,860.3 218.5,862.9 226.6,863.5 234.6,865.6 242.7,864.2 250.7,863.9 258.8,864.6 266.8,865.7 274.9,866.6 282.9,863.7 291.0,862.0 299.0,862.4 307.1,862.8 315.1,864.7 323.2,863.3 331.2,865.4 339.3,865.9 347.3,865.0 355.4,864.8 363.4,864.1 371.5,863.8 379.5,861.7 387.6,861.4 395.6,861.5 403.7,862.5 411.7,861.3 419.8,863.7 427.8,862.4 435.9,862.4 443.9,860.0 452.0,860.1 460.0,861.4 468.1,863.3 476.1,865.6 484.2,866.1 492.2,867.0 500.3,866.6 508.3,865.1 516.4,865.3 524.4,864.1 532.5,865.0 540.5,864.0 548.6,863.6 556.6,863.1 564.7,863.1 572.7,864.2 580.8,863.5 588.8,864.3 596.9,862.7 604.9,864.9 613.0,863.5" fill="none" stroke="#12c028" stroke-width="4.2" stroke-linejoin="round"/><polyline points="138.0,976.9 144.0,976.9 150.0,976.9 156.0,976.8 162.1,976.7 168.1,976.6 174.1,976.5 180.1,976.4 186.1,976.3 192.1,976.3 198.1,976.2 204.1,975.8 210.2,975.1 216.2,974.2 222.2,973.2 228.2,972.1 234.2,971.1 240.2,970.2 246.2,969.4 252.2,969.0 258.3,968.9 264.3,969.1 270.3,969.6 276.3,970.1 282.3,970.6 288.3,970.8 294.3,971.7 300.3,974.7 306.4,978.1 312.4,980.2 318.4,979.3 324.4,976.9 330.4,976.2 336.4,975.7 342.4,974.9 348.4,974.0 354.5,973.1 360.5,972.4 366.5,972.2 372.5,971.5 378.5,970.0 384.5,968.7 390.5,968.2 396.5,971.3 402.6,976.3 408.6,978.9 414.6,978.6 420.6,977.9 426.6,977.2 432.6,976.9 438.6,976.7 444.6,976.1 450.7,975.5 456.7,975.0 462.7,974.9 468.7,975.4 474.7,976.2 480.7,977.0 486.7,977.5 492.7,977.5 498.8,976.9 504.8,976.1 510.8,975.3 516.8,974.9 522.8,976.3 528.8,979.5 534.8,980.1 540.8,978.7 546.9,976.7 552.9,975.2 558.9,975.1 564.9,976.6 570.9,978.6 576.9,980.1 582.9,980.3 588.9,980.6 595.0,980.9 601.0,981.2 607.0,981.5 613.0,981.6" fill="none" stroke="#2b72d4" stroke-width="4.0" stroke-linejoin="round"/><line x1="738.6" y1="733.0" x2="1229.0" y2="733.0" stroke="#1d477c" stroke-width="1.2"/><line x1="738.6" y1="750.0" x2="1229.0" y2="750.0" stroke="#1d477c" stroke-width="1.2"/><line x1="738.6" y1="767.0" x2="1229.0" y2="767.0" stroke="#1d477c" stroke-width="1.2"/><line x1="738.6" y1="784.0" x2="1229.0" y2="784.0" stroke="#1d477c" stroke-width="1.2"/><line x1="738.6" y1="801.0" x2="1229.0" y2="801.0" stroke="#2a67ad" stroke-width="2"/><rect x="738.6" y="733.0" width="490.4" height="17.0" fill="#1a3c6c" opacity="0.16"/><rect x="738.6" y="767.0" width="490.4" height="17.0" fill="#1a3c6c" opacity="0.16"/><line x1="738.6" y1="729.0" x2="738.6" y2="801.0" stroke="#2a67ad" stroke-width="2"/><text x="729.6" y="737.5" text-anchor="end" class="ax">80</text><text x="729.6" y="754.5" text-anchor="end" class="ax">60</text><text x="729.6" y="771.5" text-anchor="end" class="ax">40</text><text x="729.6" y="788.5" text-anchor="end" class="ax">20</text><text x="729.6" y="805.5" text-anchor="end" class="ax">0</text><text x="783.0" y="815.5" text-anchor="middle" class="ax">08:15</text><text x="835.6" y="815.5" text-anchor="middle" class="ax">08:18</text><text x="884.0" y="815.5" text-anchor="middle" class="ax">08:21</text><text x="936.5" y="815.5" text-anchor="middle" class="ax">08:24</text><text x="989.6" y="815.5" text-anchor="middle" class="ax">08:27</text><text x="1042.0" y="815.5" text-anchor="middle" class="ax">08:30</text><text x="1102.5" y="815.5" text-anchor="middle" class="ax">08:33</text><text x="1163.6" y="815.5" text-anchor="middle" class="ax">08:36</text><text x="693.0" y="751.6" text-anchor="middle" class="vl" font-size="17">含</text><text x="693.0" y="769.6" text-anchor="middle" class="vl" font-size="17">水</text><text x="693.0" y="787.6" text-anchor="middle" class="vl" font-size="17">率</text><text x="1228.0" y="726.0" text-anchor="end" class="un">45.99 cst</text><rect x="776.8" y="787.0" width="12.5" height="14.0" fill="#46e2f3"/><rect x="829.4" y="776.5" width="12.5" height="24.5" fill="#46e2f3"/><rect x="877.8" y="781.0" width="12.5" height="20.0" fill="#46e2f3"/><rect x="930.2" y="776.5" width="12.5" height="24.5" fill="#46e2f3"/><rect x="983.4" y="787.0" width="12.5" height="14.0" fill="#46e2f3"/><rect x="1035.8" y="787.0" width="12.5" height="14.0" fill="#46e2f3"/><rect x="1096.2" y="783.0" width="12.5" height="18.0" fill="#46e2f3"/><rect x="1157.3" y="748.5" width="12.5" height="52.5" fill="#46e2f3"/><line x1="738.6" y1="840.0" x2="1229.0" y2="840.0" stroke="#1d477c" stroke-width="1.2"/><line x1="738.6" y1="857.0" x2="1229.0" y2="857.0" stroke="#1d477c" stroke-width="1.2"/><line x1="738.6" y1="874.0" x2="1229.0" y2="874.0" stroke="#1d477c" stroke-width="1.2"/><line x1="738.6" y1="891.0" x2="1229.0" y2="891.0" stroke="#1d477c" stroke-width="1.2"/><line x1="738.6" y1="908.0" x2="1229.0" y2="908.0" stroke="#2a67ad" stroke-width="2"/><rect x="738.6" y="840.0" width="490.4" height="17.0" fill="#1a3c6c" opacity="0.16"/><rect x="738.6" y="874.0" width="490.4" height="17.0" fill="#1a3c6c" opacity="0.16"/><line x1="738.6" y1="836.0" x2="738.6" y2="908.0" stroke="#2a67ad" stroke-width="2"/><text x="729.6" y="844.5" text-anchor="end" class="ax">4</text><text x="729.6" y="861.5" text-anchor="end" class="ax">3</text><text x="729.6" y="878.5" text-anchor="end" class="ax">2</text><text x="729.6" y="895.5" text-anchor="end" class="ax">1</text><text x="729.6" y="912.5" text-anchor="end" class="ax">0</text><text x="783.0" y="921.0" text-anchor="middle" class="ax">08:15</text><text x="835.6" y="921.0" text-anchor="middle" class="ax">08:18</text><text x="884.0" y="921.0" text-anchor="middle" class="ax">08:21</text><text x="936.5" y="921.0" text-anchor="middle" class="ax">08:24</text><text x="989.6" y="921.0" text-anchor="middle" class="ax">08:27</text><text x="1042.0" y="921.0" text-anchor="middle" class="ax">08:30</text><text x="1102.5" y="921.0" text-anchor="middle" class="ax">08:33</text><text x="1163.6" y="921.0" text-anchor="middle" class="ax">08:36</text><text x="693.0" y="849.6" text-anchor="middle" class="vl" font-size="17">含</text><text x="693.0" y="867.6" text-anchor="middle" class="vl" font-size="17">气</text><text x="693.0" y="885.6" text-anchor="middle" class="vl" font-size="17">粘</text><text x="693.0" y="903.6" text-anchor="middle" class="vl" font-size="17">度</text><text x="1228.0" y="833.0" text-anchor="end" class="un">2ppm</text><rect x="776.8" y="900.6" width="12.5" height="7.4" fill="#ffff00"/><rect x="829.4" y="875.0" width="12.5" height="33.0" fill="#ffff00"/><rect x="877.8" y="875.0" width="12.5" height="33.0" fill="#ffff00"/><rect x="930.2" y="872.0" width="12.5" height="36.0" fill="#ffff00"/><rect x="983.4" y="863.5" width="12.5" height="44.5" fill="#ffff00"/><rect x="1035.8" y="863.5" width="12.5" height="44.5" fill="#ffff00"/><rect x="1096.2" y="871.0" width="12.5" height="37.0" fill="#ffff00"/><rect x="1157.3" y="847.0" width="12.5" height="61.0" fill="#ffff00"/><line x1="738.6" y1="946.6" x2="1229.0" y2="946.6" stroke="#1d477c" stroke-width="1.2"/><line x1="738.6" y1="963.5" x2="1229.0" y2="963.5" stroke="#1d477c" stroke-width="1.2"/><line x1="738.6" y1="980.3" x2="1229.0" y2="980.3" stroke="#1d477c" stroke-width="1.2"/><line x1="738.6" y1="997.1" x2="1229.0" y2="997.1" stroke="#1d477c" stroke-width="1.2"/><line x1="738.6" y1="1014.0" x2="1229.0" y2="1014.0" stroke="#2a67ad" stroke-width="2"/><rect x="738.6" y="946.6" width="490.4" height="16.8" fill="#1a3c6c" opacity="0.16"/><rect x="738.6" y="980.3" width="490.4" height="16.8" fill="#1a3c6c" opacity="0.16"/><line x1="738.6" y1="942.6" x2="738.6" y2="1014.0" stroke="#2a67ad" stroke-width="2"/><text x="729.6" y="951.1" text-anchor="end" class="ax">12000</text><text x="729.6" y="968.0" text-anchor="end" class="ax">9000</text><text x="729.6" y="984.8" text-anchor="end" class="ax">6000</text><text x="729.6" y="1001.6" text-anchor="end" class="ax">3000</text><text x="729.6" y="1018.5" text-anchor="end" class="ax">0</text><text x="783.0" y="1026.5" text-anchor="middle" class="ax">08:15</text><text x="835.6" y="1026.5" text-anchor="middle" class="ax">08:18</text><text x="884.0" y="1026.5" text-anchor="middle" class="ax">08:21</text><text x="936.5" y="1026.5" text-anchor="middle" class="ax">08:24</text><text x="989.6" y="1026.5" text-anchor="middle" class="ax">08:27</text><text x="1042.0" y="1026.5" text-anchor="middle" class="ax">08:30</text><text x="1102.5" y="1026.5" text-anchor="middle" class="ax">08:33</text><text x="1163.6" y="1026.5" text-anchor="middle" class="ax">08:36</text><text x="693.0" y="973.9" text-anchor="middle" class="vl" font-size="17">磨</text><text x="693.0" y="991.9" text-anchor="middle" class="vl" font-size="17">损</text><text x="1228.0" y="939.6" text-anchor="end" class="un">7140颗</text><rect x="776.8" y="983.0" width="12.5" height="31.0" fill="#48b8ff"/><rect x="829.4" y="957.0" width="12.5" height="57.0" fill="#48b8ff"/><rect x="877.8" y="976.4" width="12.5" height="37.6" fill="#48b8ff"/><rect x="930.2" y="983.0" width="12.5" height="31.0" fill="#48b8ff"/><rect x="983.4" y="983.0" width="12.5" height="31.0" fill="#48b8ff"/><rect x="1035.8" y="983.0" width="12.5" height="31.0" fill="#48b8ff"/><rect x="1096.2" y="973.5" width="12.5" height="40.5" fill="#48b8ff"/><rect x="1157.3" y="957.0" width="12.5" height="57.0" fill="#48b8ff"/><rect x="863.0" y="953.5" width="61" height="22" fill="#3d5f92" opacity=".92"/><text x="866.0" y="961.5" font-size="7" fill="#dfe8f7">2023-02-12 08:18</text><text x="866.0" y="970.5" font-size="7" fill="#dfe8f7">磨损: 9000</text><line x1="1374.0" y1="733.0" x2="1853.0" y2="733.0" stroke="#1d477c" stroke-width="1.2"/><line x1="1374.0" y1="750.0" x2="1853.0" y2="750.0" stroke="#1d477c" stroke-width="1.2"/><line x1="1374.0" y1="767.0" x2="1853.0" y2="767.0" stroke="#1d477c" stroke-width="1.2"/><line x1="1374.0" y1="784.0" x2="1853.0" y2="784.0" stroke="#1d477c" stroke-width="1.2"/><line x1="1374.0" y1="801.0" x2="1853.0" y2="801.0" stroke="#2a67ad" stroke-width="2"/><rect x="1374.0" y="733.0" width="479.0" height="17.0" fill="#1a3c6c" opacity="0.16"/><rect x="1374.0" y="767.0" width="479.0" height="17.0" fill="#1a3c6c" opacity="0.16"/><line x1="1374.0" y1="729.0" x2="1374.0" y2="801.0" stroke="#2a67ad" stroke-width="2"/><text x="1365.0" y="737.5" text-anchor="end" class="ax">1</text><text x="1365.0" y="754.5" text-anchor="end" class="ax">0.75</text><text x="1365.0" y="771.5" text-anchor="end" class="ax">0.5</text><text x="1365.0" y="788.5" text-anchor="end" class="ax">0.25</text><text x="1365.0" y="805.5" text-anchor="end" class="ax">0</text><text x="1425.0" y="815.5" text-anchor="middle" class="ax">08:15</text><text x="1479.0" y="815.5" text-anchor="middle" class="ax">08:18</text><text x="1531.0" y="815.5" text-anchor="middle" class="ax">08:21</text><text x="1583.0" y="815.5" text-anchor="middle" class="ax">08:24</text><text x="1635.0" y="815.5" text-anchor="middle" class="ax">08:27</text><text x="1688.0" y="815.5" text-anchor="middle" class="ax">08:30</text><text x="1745.0" y="815.5" text-anchor="middle" class="ax">08:33</text><text x="1311.0" y="751.6" text-anchor="middle" class="vl" font-size="17">饱</text><text x="1311.0" y="769.6" text-anchor="middle" class="vl" font-size="17">和</text><text x="1311.0" y="787.6" text-anchor="middle" class="vl" font-size="17">度</text><line x1="1374.0" y1="840.0" x2="1853.0" y2="840.0" stroke="#1d477c" stroke-width="1.2"/><line x1="1374.0" y1="857.0" x2="1853.0" y2="857.0" stroke="#1d477c" stroke-width="1.2"/><line x1="1374.0" y1="874.0" x2="1853.0" y2="874.0" stroke="#1d477c" stroke-width="1.2"/><line x1="1374.0" y1="891.0" x2="1853.0" y2="891.0" stroke="#1d477c" stroke-width="1.2"/><line x1="1374.0" y1="908.0" x2="1853.0" y2="908.0" stroke="#2a67ad" stroke-width="2"/><rect x="1374.0" y="840.0" width="479.0" height="17.0" fill="#1a3c6c" opacity="0.16"/><rect x="1374.0" y="874.0" width="479.0" height="17.0" fill="#1a3c6c" opacity="0.16"/><line x1="1374.0" y1="836.0" x2="1374.0" y2="908.0" stroke="#2a67ad" stroke-width="2"/><text x="1365.0" y="844.5" text-anchor="end" class="ax">4</text><text x="1365.0" y="861.5" text-anchor="end" class="ax">3</text><text x="1365.0" y="878.5" text-anchor="end" class="ax">2</text><text x="1365.0" y="895.5" text-anchor="end" class="ax">1</text><text x="1365.0" y="912.5" text-anchor="end" class="ax">0</text><text x="1425.0" y="921.0" text-anchor="middle" class="ax">08:15</text><text x="1479.0" y="921.0" text-anchor="middle" class="ax">08:18</text><text x="1531.0" y="921.0" text-anchor="middle" class="ax">08:21</text><text x="1583.0" y="921.0" text-anchor="middle" class="ax">08:24</text><text x="1635.0" y="921.0" text-anchor="middle" class="ax">08:27</text><text x="1688.0" y="921.0" text-anchor="middle" class="ax">08:30</text><text x="1745.0" y="921.0" text-anchor="middle" class="ax">08:33</text><text x="1311.0" y="858.6" text-anchor="middle" class="vl" font-size="17">含</text><text x="1311.0" y="876.6" text-anchor="middle" class="vl" font-size="17">水</text><text x="1311.0" y="894.6" text-anchor="middle" class="vl" font-size="17">量</text><line x1="1374.0" y1="946.6" x2="1853.0" y2="946.6" stroke="#1d477c" stroke-width="1.2"/><line x1="1374.0" y1="963.5" x2="1853.0" y2="963.5" stroke="#1d477c" stroke-width="1.2"/><line x1="1374.0" y1="980.3" x2="1853.0" y2="980.3" stroke="#1d477c" stroke-width="1.2"/><line x1="1374.0" y1="997.1" x2="1853.0" y2="997.1" stroke="#1d477c" stroke-width="1.2"/><line x1="1374.0" y1="1014.0" x2="1853.0" y2="1014.0" stroke="#2a67ad" stroke-width="2"/><rect x="1374.0" y="946.6" width="479.0" height="16.8" fill="#1a3c6c" opacity="0.16"/><rect x="1374.0" y="980.3" width="479.0" height="16.8" fill="#1a3c6c" opacity="0.16"/><line x1="1374.0" y1="942.6" x2="1374.0" y2="1014.0" stroke="#2a67ad" stroke-width="2"/><text x="1365.0" y="951.1" text-anchor="end" class="ax">80</text><text x="1365.0" y="968.0" text-anchor="end" class="ax">60</text><text x="1365.0" y="984.8" text-anchor="end" class="ax">40</text><text x="1365.0" y="1001.6" text-anchor="end" class="ax">20</text><text x="1365.0" y="1018.5" text-anchor="end" class="ax">0</text><text x="1425.0" y="1026.5" text-anchor="middle" class="ax">08:15</text><text x="1479.0" y="1026.5" text-anchor="middle" class="ax">08:18</text><text x="1531.0" y="1026.5" text-anchor="middle" class="ax">08:21</text><text x="1583.0" y="1026.5" text-anchor="middle" class="ax">08:24</text><text x="1635.0" y="1026.5" text-anchor="middle" class="ax">08:27</text><text x="1688.0" y="1026.5" text-anchor="middle" class="ax">08:30</text><text x="1745.0" y="1026.5" text-anchor="middle" class="ax">08:33</text><text x="1311.0" y="973.9" text-anchor="middle" class="vl" font-size="17">温</text><text x="1311.0" y="991.9" text-anchor="middle" class="vl" font-size="17">度</text><text x="1834" y="726.0" text-anchor="end" class="un" >65%</text><text x="1852" y="833.0" text-anchor="end" class="un">2ppm</text><text x="1852" y="939.6" text-anchor="end" class="un">31℃</text><polyline points="1377.0,788.8 1380.2,786.0 1383.4,780.6 1386.6,770.4 1389.8,763.1 1393.0,775.0 1396.2,775.9 1399.4,757.7 1402.6,770.1 1405.8,770.5 1408.9,753.8 1412.1,765.1 1415.3,757.0 1418.5,764.8 1421.7,761.3 1424.9,771.9 1428.1,761.4 1431.3,756.4 1434.5,764.0 1437.7,759.4 1440.9,761.1 1444.1,774.5 1447.3,759.6 1450.5,763.5 1453.7,770.1 1456.9,776.2 1460.1,758.4 1463.3,767.2 1466.4,762.2 1469.6,759.0 1472.8,762.9 1476.0,758.6 1479.2,770.4 1482.4,761.8 1485.6,769.8 1488.8,759.4 1492.0,760.8 1495.2,778.0 1498.4,777.3 1501.6,775.7 1504.8,759.5 1508.0,771.1 1511.2,767.0 1514.4,774.0 1517.6,769.5 1520.8,772.1 1524.0,772.8 1527.1,767.5 1530.3,767.4 1533.5,760.2 1536.7,764.8 1539.9,759.2 1543.1,760.6 1546.3,757.4 1549.5,764.0 1552.7,774.8 1555.9,759.3 1559.1,756.8 1562.3,757.8 1565.5,764.8 1568.7,761.3 1571.9,772.0 1575.1,771.4 1578.3,774.6 1581.5,773.4 1584.7,773.3 1587.8,770.6 1591.0,772.8 1594.2,770.5 1597.4,774.2 1600.6,773.3 1603.8,771.6 1607.0,770.3 1610.2,772.7 1613.4,773.9 1616.6,774.5 1619.8,762.2 1623.0,774.8 1626.2,782.0 1629.4,769.0 1632.6,757.3 1635.8,755.4 1639.0,766.0 1642.2,755.6 1645.3,770.9 1648.5,776.3 1651.7,765.2 1654.9,777.8 1658.1,775.9 1661.3,773.6 1664.5,775.5 1667.7,772.1 1670.9,772.0 1674.1,775.5 1677.3,775.0 1680.5,772.1 1683.7,773.0 1686.9,772.1 1690.1,770.6 1693.3,769.3 1696.5,766.6 1699.7,767.6 1702.9,768.3 1706.0,766.8 1709.2,759.7 1712.4,769.0 1715.6,770.4 1718.8,763.9 1722.0,774.2 1725.2,772.5 1728.4,757.5 1731.6,767.2 1734.8,766.3 1738.0,777.7 1741.2,768.6 1744.4,764.7 1747.6,776.6 1750.8,763.3 1754.0,762.7 1757.2,774.9 1760.4,762.3 1763.6,765.6 1766.7,760.8 1769.9,767.8 1773.1,760.0 1776.3,759.2 1779.5,774.7 1782.7,773.8 1785.9,760.5 1789.1,754.3 1792.3,769.8 1795.5,765.5 1798.7,754.8 1801.9,768.7 1805.1,768.0 1808.3,787.4 1811.5,768.3 1814.7,792.8 1817.9,770.3 1821.1,763.6 1824.2,760.7 1827.4,771.2 1830.6,774.0 1833.8,775.0 1837.0,772.9 1840.2,769.2 1843.4,767.0 1846.6,767.9 1849.8,770.7 1853.0,772.5" fill="none" stroke="#f0ee22" stroke-width="3.7" stroke-linejoin="round"/><polyline points="1377.0,870.6 1386.5,853.6 1396.0,853.6 1398.4,879.4 1405.6,879.4 1419.8,895.8 1424.6,895.8 1429.4,870.6 1434.1,867.2 1443.6,879.4 1462.7,868.6 1469.8,874.0 1472.2,853.6 1484.1,853.6 1488.9,879.4 1500.8,867.2 1515.0,879.4 1534.1,853.6 1543.6,867.2 1550.7,853.6 1562.6,867.2 1576.9,879.4 1610.2,879.4 1634.0,853.6 1648.3,853.6 1650.7,867.2 1657.8,867.2 1667.4,879.4 1672.1,867.2 1679.3,867.2 1695.9,879.4 1729.2,879.4 1731.6,867.2 1772.1,867.2 1791.1,879.4 1800.6,867.2 1817.3,867.2 1824.4,879.4 1853.0,879.4" fill="none" stroke="#12c028" stroke-width="4.6" stroke-linejoin="round"/><polyline points="1377.0,976.9 1383.0,976.9 1389.1,976.9 1395.1,976.8 1401.1,976.7 1407.1,976.6 1413.2,976.5 1419.2,976.4 1425.2,976.3 1431.2,976.3 1437.3,976.2 1443.3,975.8 1449.3,975.1 1455.3,974.2 1461.4,973.2 1467.4,972.1 1473.4,971.1 1479.4,970.2 1485.5,969.4 1491.5,969.0 1497.5,968.9 1503.5,969.1 1509.6,969.6 1515.6,970.1 1521.6,970.6 1527.6,970.8 1533.7,971.7 1539.7,974.7 1545.7,978.1 1551.7,980.2 1557.8,979.3 1563.8,976.9 1569.8,976.2 1575.8,975.7 1581.9,974.9 1587.9,974.0 1593.9,973.1 1599.9,972.4 1606.0,972.2 1612.0,971.5 1618.0,970.0 1624.0,968.7 1630.1,968.2 1636.1,971.3 1642.1,976.3 1648.1,978.9 1654.2,978.6 1660.2,977.9 1666.2,977.2 1672.2,976.9 1678.3,976.7 1684.3,976.1 1690.3,975.5 1696.3,975.0 1702.4,974.9 1708.4,975.4 1714.4,976.2 1720.4,977.0 1726.5,977.5 1732.5,977.5 1738.5,976.9 1744.5,976.1 1750.6,975.3 1756.6,974.9 1762.6,976.3 1768.6,979.5 1774.7,980.1 1780.7,978.7 1786.7,976.7 1792.7,975.2 1798.8,975.1 1804.8,976.6 1810.8,978.6 1816.8,980.1 1822.9,980.3 1828.9,980.6 1834.9,980.9 1840.9,981.2 1847.0,981.5 1853.0,981.6" fill="none" stroke="#2b72d4" stroke-width="4.0" stroke-linejoin="round"/></svg></div>
<div class="dash" style="left:637px;top:596px"><div class="bg"></div>
<div style="position:absolute;left:0;top:596px;width:1920px;height:34px;background:linear-gradient(to right, rgba(2,6,14,.15), rgba(2,6,14,.6))"></div>
<svg class="hd" width="1920" height="170" viewBox="0 0 1920 170"><defs><linearGradient id="zhg" x1="0" y1="0" x2="0" y2="1"><stop offset="0" stop-color="#0a3a7c" stop-opacity=".95"/><stop offset="1" stop-color="#062658" stop-opacity=".85"/></linearGradient><linearGradient id="zhm" x1="0" y1="0" x2="1" y2="0"><stop offset="0" stop-color="#fff" stop-opacity=".25"/><stop offset=".14" stop-color="#fff" stop-opacity="1"/><stop offset=".86" stop-color="#fff" stop-opacity="1"/><stop offset="1" stop-color="#fff" stop-opacity=".25"/></linearGradient><mask id="zhk"><rect x="470" y="30" width="980" height="110" fill="url(#zhm)"/></mask><linearGradient id="zll" x1="0" y1="0" x2="1" y2="0"><stop offset="0" stop-color="#1c5aa8" stop-opacity=".12"/><stop offset="1" stop-color="#2b7fe0" stop-opacity=".7"/></linearGradient><linearGradient id="zlr" x1="1" y1="0" x2="0" y2="0"><stop offset="0" stop-color="#1c5aa8" stop-opacity=".12"/><stop offset="1" stop-color="#2b7fe0" stop-opacity=".7"/></linearGradient><radialGradient id="zglow"><stop offset="0" stop-color="#eaf6ff"/><stop offset=".15" stop-color="#69b8ff" stop-opacity=".9"/><stop offset="1" stop-color="#1a6fe0" stop-opacity="0"/></radialGradient><filter id="zbl"><feGaussianBlur stdDeviation="3"/></filter></defs><polygon points="524.0,43.0 1396.0,43.0 1430.0,62.0 1390.0,82.0 1262.0,82.0 1226.0,113.0 1200.0,128.0 720.0,128.0 694.0,113.0 658.0,82.0 530.0,82.0 490.0,62.0" fill="url(#zhg)" mask="url(#zhk)"/><polyline points="1430.0,62.0 1390.0,82.0 1262.0,82.0 1226.0,113.0 1200.0,128.0 720.0,128.0 694.0,113.0 658.0,82.0 530.0,82.0 490.0,62.0 524.0,43.0" fill="none" stroke="#1f6fd0" stroke-width="1.6" opacity=".45"/><polygon points="560.0,60.0 1360.0,60.0 1340.0,74.0 580.0,74.0" fill="#06224e" opacity=".55"/><line x1="0" y1="50" x2="432" y2="66" stroke="url(#zll)" stroke-width="2.5"/><line x1="1920" y1="50" x2="1488" y2="66" stroke="url(#zlr)" stroke-width="2.5"/><line x1="432" y1="64" x2="492" y2="64" stroke="#2b8cff" stroke-width="7" filter="url(#zbl)"/><line x1="432" y1="64" x2="492" y2="64" stroke="#3f9dff" stroke-width="5"/><line x1="1428" y1="64" x2="1488" y2="64" stroke="#2b8cff" stroke-width="7" filter="url(#zbl)"/><line x1="1428" y1="64" x2="1488" y2="64" stroke="#3f9dff" stroke-width="5"/><line x1="536" y1="47" x2="626" y2="47" stroke="#2b8cff" stroke-width="8" filter="url(#zbl)"/><line x1="536" y1="47" x2="626" y2="47" stroke="#2f86f0" stroke-width="6"/><line x1="1294" y1="47" x2="1384" y2="47" stroke="#2b8cff" stroke-width="8" filter="url(#zbl)"/><line x1="1294" y1="47" x2="1384" y2="47" stroke="#2f86f0" stroke-width="6"/><line x1="680" y1="122" x2="712" y2="122" stroke="#35a8ff" stroke-width="5"/><line x1="1208" y1="122" x2="1240" y2="122" stroke="#35a8ff" stroke-width="5"/><line x1="720" y1="128" x2="1200" y2="128" stroke="#2b8cff" stroke-width="4"/><ellipse cx="960" cy="124" rx="110" ry="13" fill="url(#zglow)" opacity=".85"/><ellipse cx="960" cy="124" rx="20" ry="4.5" fill="#f4fbff"/></svg>
<div class="title">智火柴油液监测物联网平台</div>
<div class="sub">&lt; 2号液压系统 &gt;</div>
<div class="btn">数据分析模式 &gt;</div>
<div class="date">周四 2023-02-12 13:47</div>
<div class="pn" style="left:52px;top:186px;width:584px;height:409px"><i class="c tl"></i><i class="c tr"></i><i class="c bl"></i><i class="c br"></i></div>
<div class="pn" style="left:672px;top:186px;width:584px;height:409px"><i class="c tl"></i><i class="c tr"></i><i class="c bl"></i><i class="c br"></i></div>
<div class="pn" style="left:1290px;top:186px;width:585px;height:409px"><i class="c tl"></i><i class="c tr"></i><i class="c bl"></i><i class="c br"></i></div>
<div class="pn" style="left:52px;top:631px;width:584px;height:409px"><i class="c tl"></i><i class="c tr"></i><i class="c bl"></i><i class="c br"></i></div>
<div class="pn" style="left:672px;top:631px;width:584px;height:409px"><i class="c tl"></i><i class="c tr"></i><i class="c bl"></i><i class="c br"></i></div>
<div class="pn" style="left:1290px;top:631px;width:585px;height:409px"><i class="c tl"></i><i class="c tr"></i><i class="c bl"></i><i class="c br"></i></div>
<div class="bar" style="left:52px;top:205px;height:28px"></div>
<div class="ttl" style="left:85px;top:206px">实时数据</div>
<div class="th" style="left:52px;top:233px;width:584px"><span style="left:34px">监测指标</span><span style="left:258px">数值</span><span style="right:21px">数据状态</span></div>
<div class="tr" style="top:266.5px"><span style="left:86px">运动粘度</span><span style="left:310px;color:#fff;font-size:20px">21cst</span><span style="left:380px;width:200px;text-align:right;color:#20c9c9">正常</span></div>
<div class="tr" style="top:299.5px"><span style="left:86px">含水量</span><span style="left:310px;color:#fff;font-size:20px">6ppm</span><span style="left:380px;width:200px;text-align:right;color:#20c9c9">正常</span></div>
<div class="tr" style="top:332.5px"><span style="left:86px">饱和度</span><span style="left:310px;color:#e8364a;font-size:20px">86%</span><span style="left:380px;width:200px;text-align:right;color:#e8364a">二级预警</span></div>
<div class="tr" style="top:365.5px"><span style="left:86px">温度</span><span style="left:310px;color:#e9c81e;font-size:20px">35.6℃</span><span style="left:380px;width:200px;text-align:right;color:#e9c81e">一级预警</span></div>
<div class="tr" style="top:398.5px"><span style="left:86px">40℃运动粘度</span><span style="left:310px;color:#fff;font-size:20px">319cst</span><span style="left:380px;width:200px;text-align:right;color:#20c9c9">正常</span></div>
<div class="tr" style="top:431.5px"><span style="left:86px">油品品质</span><span style="left:310px;color:#fff;font-size:20px">2.14</span><span style="left:380px;width:200px;text-align:right;color:#20c9c9">正常</span></div>
<div style="position:absolute;left:612px;top:270px;width:6px;height:242px;background:#2c5aa0"></div>
<div class="bar" style="left:673px;top:205px;height:31px"></div>
<div class="ml" style="left:704px;top:201px">机组类型</div>
<div class="ms" style="left:706px;top:228px">水泥磨</div>
<div class="ml" style="left:838px;top:201px">编号</div>
<div class="ms" style="left:840px;top:228px">02304000</div>
<div class="ml" style="left:998px;top:201px">监测位置</div>
<div class="ms" style="left:1000px;top:228px">齿轮系统</div>
<div class="ml" style="left:1122px;top:201px">监测油品</div>
<div class="ms" style="left:1124px;top:228px">壳牌320</div>
<div class="dv" style="left:673px;top:258px;width:582px"></div>
<div style="position:absolute;left:710px;top:280px;width:496px;height:292px;border:1.5px solid #1e426e;box-sizing:border-box"></div>
<svg class="ov" width="1920" height="1080" viewBox="0 0 1920 1080"><defs><linearGradient id="zmb" x1="0" y1="0" x2="0" y2="1"><stop offset="0" stop-color="#5fb2ff"/><stop offset=".4" stop-color="#2f8ff6"/><stop offset="1" stop-color="#1b68d2"/></linearGradient><linearGradient id="zmm" x1="0" y1="0" x2="1" y2="1"><stop offset="0" stop-color="#4aa4ff"/><stop offset=".6" stop-color="#2a86f0"/><stop offset="1" stop-color="#1f6fd8"/></linearGradient><linearGradient id="zms" x1="0" y1="0" x2="0" y2="1"><stop offset="0" stop-color="#d9def2"/><stop offset=".45" stop-color="#a9b2d6"/><stop offset="1" stop-color="#7f8cc0"/></linearGradient><linearGradient id="zmr" x1="0" y1="0" x2="1" y2="1"><stop offset="0" stop-color="#4b4b51"/><stop offset="1" stop-color="#303035"/></linearGradient></defs><g transform="translate(736.6 253.6) scale(0.4278)"><polygon points="65,558 620,380 1030,432 300,667" fill="#36363b"/><polygon points="150,560 330,640 960,440 900,415 340,600 200,545" fill="#19191c"/><polygon points="65,558 300,667 300,720 65,612" fill="#2b2b30"/><polygon points="300,667 1030,432 1030,490 300,720" fill="#232327"/><polygon points="430,631 462,621 462,663 430,673" fill="#121215"/><polygon points="575,584 607,574 607,616 575,626" fill="#121215"/><polygon points="720,538 752,528 752,570 720,580" fill="#121215"/><polygon points="862,492 894,482 894,524 862,534" fill="#121215"/><polygon points="690,445 880,392 905,432 735,492" fill="#1c1c20"/><polygon points="790,430 845,415 850,470 800,480" fill="#141417"/><path d="M760 230 Q765 165 830 148 L885 140 Q960 170 962 265 Q960 350 915 385 L850 398 Q790 405 772 380 Z" fill="url(#zmm)"/><path d="M885 140 Q968 165 966 268 Q962 350 915 387" fill="none" stroke="#b9d8ff" stroke-width="10"/><path d="M772 380 Q800 410 850 398 L850 440 Q800 450 775 430 Z" fill="#2379e2"/><polygon points="660,240 770,212 805,400 700,432" fill="url(#zms)"/><polygon points="672,262 775,236 779,256 676,283" fill="#eef1fb" opacity=".75"/><path d="M610 262 Q650 232 700 240 L738 420 Q700 450 640 438 Z" fill="#2a84ee"/><ellipse cx="690" cy="340" rx="45" ry="95" fill="#2f8cf4" transform="rotate(-10 690 340)"/><path d="M315 300 Q330 270 420 250 L560 222 Q630 222 648 290 L655 470 Q640 525 560 533 Q470 535 400 510 L330 490 Z" fill="url(#zmb)"/><ellipse cx="345" cy="345" rx="88" ry="42" fill="#b4daff" opacity=".85" transform="rotate(-14 345 345)"/><ellipse cx="350" cy="350" rx="70" ry="30" fill="#6db6ff" opacity=".9" transform="rotate(-14 350 350)"/><path d="M488 260 L488 205 Q540 180 600 200 L605 262 Q545 285 488 260 Z" fill="#348ff5"/><path d="M488 205 Q540 180 600 200 Q545 222 488 205 Z" fill="#6cb8ff"/><path d="M325 282 q0 -34 28 -34 q28 0 28 30" fill="none" stroke="#3f9bff" stroke-width="11"/><path d="M455 240 q0 -34 28 -34 q28 0 28 28" fill="none" stroke="#3f9bff" stroke-width="11"/><rect x="677" y="78" width="40" height="70" rx="19" fill="#4eaaff"/><polygon points="595,200 625,150 660,130 765,165 748,218 650,200 615,222" fill="#303035"/><circle cx="741" cy="190" r="27" fill="#3c3c42"/><circle cx="741" cy="190" r="13" fill="#131316"/><path d="M198 290 Q205 245 262 228 L505 155 Q540 150 552 185" fill="none" stroke="#f3f5fb" stroke-width="6"/><path d="M218 300 Q224 262 272 246 L500 178 Q520 174 530 195" fill="none" stroke="#dfe4f2" stroke-width="5"/><polygon points="370,476 592,410 592,456 370,522" fill="#2a7fe6"/><line x1="370" y1="481" x2="592" y2="415" stroke="#e3ebfb" stroke-width="3"/><line x1="370" y1="489" x2="592" y2="423" stroke="#e3ebfb" stroke-width="3"/><line x1="370" y1="497" x2="592" y2="431" stroke="#e3ebfb" stroke-width="3"/><line x1="370" y1="505" x2="592" y2="439" stroke="#e3ebfb" stroke-width="3"/><line x1="370" y1="513" x2="592" y2="447" stroke="#e3ebfb" stroke-width="3"/><line x1="370" y1="521" x2="592" y2="455" stroke="#e3ebfb" stroke-width="3"/><line x1="392" y1="533" x2="838" y2="400" stroke="#e9ecf5" stroke-width="8"/><line x1="356" y1="470" x2="356" y2="612" stroke="#3a92f6" stroke-width="11"/><polygon points="90,262 122,254 332,335 300,345" fill="#5d5d63"/><polygon points="300,345 332,335 332,612 300,627" fill="#2a2a2e"/><polygon points="90,262 300,345 300,627 90,547" fill="url(#zmr)"/><polygon points="112,305 278,370 278,383 112,318" fill="#222226"/><polygon points="112,332 278,397 278,410 112,345" fill="#222226"/><polygon points="112,359 278,424 278,437 112,372" fill="#222226"/><polygon points="112,386 278,451 278,464 112,399" fill="#222226"/><polygon points="112,413 278,478 278,491 112,426" fill="#222226"/><polygon points="112,440 278,505 278,518 112,453" fill="#222226"/><polygon points="112,467 278,532 278,545 112,480" fill="#222226"/><polygon points="112,494 278,559 278,572 112,507" fill="#222226"/></g></svg>
<div class="bar" style="left:1288px;top:205px;height:31px"></div>
<div class="ttl" style="left:1325px;top:207px;letter-spacing:1.5px">油品状态</div>
<div class="dv" style="left:1291px;top:258px;width:583px"></div>
<svg class="ov" width="1920" height="1080" viewBox="0 0 1920 1080"><g transform="translate(1488.7 393.2) scale(1 0.85) translate(-1488.7 -393.2)"><path d="M1350.7 393.2 A138.0 138.0 0 0 1 1626.7 393.2 L1587.7 393.2 A99.0 99.0 0 0 0 1389.7 393.2 Z" fill="#2c5a92"/><path d="M1388.7 393.2 A100.0 100.0 0 0 1 1428.5 313.3 L1449.6 341.3 A65.0 65.0 0 0 0 1423.7 393.2 Z" fill="#3fe0f2"/><path d="M1428.5 313.3 A100.0 100.0 0 0 1 1548.9 313.3 L1527.8 341.3 A65.0 65.0 0 0 0 1449.6 341.3 Z" fill="#e8d244"/><path d="M1548.9 313.3 A100.0 100.0 0 0 1 1588.7 393.2 L1553.7 393.2 A65.0 65.0 0 0 0 1527.8 341.3 Z" fill="#e0484c"/></g><text transform="translate(1389.2 346.7) rotate(-58.0)" text-anchor="middle" y="5" font-size="14.5" fill="#e6eefc">正常</text><text transform="translate(1487.1 295.2) rotate(0.0)" text-anchor="middle" y="5" font-size="14.5" fill="#e6eefc">风险</text><text transform="translate(1588.2 346.7) rotate(58.0)" text-anchor="middle" y="5" font-size="14.5" fill="#e6eefc">异常</text><path d="M1440.7 381.3 L1493.5 372.2 A9.3 9.3 0 1 1 1493.5 390.4 Z" fill="#fff"/><circle cx="1495.5" cy="381.3" r="3.4" fill="#1b3257"/><rect x="1699" y="290" width="50" height="45" fill="#3ab2c4"/><rect x="1711" y="298" width="26" height="29" fill="none" stroke="#fff" stroke-width="2.5"/><line x1="1707" y1="298" x2="1707" y2="327" stroke="#fff" stroke-width="2"/><line x1="1741" y1="298" x2="1741" y2="327" stroke="#fff" stroke-width="2"/><circle cx="1724" cy="313" r="4.5" fill="none" stroke="#fff" stroke-width="2"/><text x="1724" y="362" text-anchor="middle" font-size="15" fill="#fff" font-weight="bold">当前油品状态为正常</text><text x="1724" y="381" text-anchor="middle" font-size="15" fill="#fff" font-weight="bold">请定期查看是否正常</text><text x="1394" y="442" text-anchor="middle" font-size="15" fill="#fff" font-weight="bold">流量</text><circle cx="1394" cy="496" r="41" fill="none" stroke="#ff6a12" stroke-width="7.5"/><text x="1394" y="494" text-anchor="middle" font-size="13" fill="#fff" font-weight="bold">30ml/</text><text x="1394" y="509" text-anchor="middle" font-size="13" fill="#fff" font-weight="bold">min</text><text x="1514" y="442" text-anchor="middle" font-size="15" fill="#fff" font-weight="bold">温度</text><circle cx="1514" cy="496" r="42" fill="none" stroke="#21e3f2" stroke-width="2" opacity=".8"/><path d="M1469.7 499.9 A44.5 44.5 0 0 1 1550.5 470.5 L1544.3 474.8 A37.0 37.0 0 0 0 1477.1 499.2 Z" fill="#21e3f2"/><text x="1514" y="494" text-anchor="middle" font-size="13" fill="#fff" font-weight="bold">35.6</text><text x="1514" y="509" text-anchor="middle" font-size="13" fill="#fff" font-weight="bold">℃</text><text x="1633" y="442" text-anchor="middle" font-size="15" fill="#fff" font-weight="bold">振动</text><circle cx="1633" cy="496" r="42" fill="none" stroke="#0f7dff" stroke-width="2" opacity=".8"/><path d="M1588.5 497.6 A44.5 44.5 0 1 1 1677.5 497.6 L1670.0 497.3 A37.0 37.0 0 1 0 1596.0 497.3 Z" fill="#0f7dff"/><text x="1633" y="501" text-anchor="middle" font-size="14" fill="#fff" font-weight="bold">16</text><text x="1753" y="442" text-anchor="middle" font-size="15" fill="#fff" font-weight="bold">油路压力</text><circle cx="1753" cy="496" r="42" fill="none" stroke="#f6f631" stroke-width="2" opacity=".8"/><path d="M1708.5 497.6 A44.5 44.5 0 1 1 1797.5 497.6 L1790.0 497.3 A37.0 37.0 0 1 0 1716.0 497.3 Z" fill="#f6f631"/><text x="1753" y="501" text-anchor="middle" font-size="14" fill="#fff" font-weight="bold">26</text></svg>
<div class="bar" style="left:52px;top:653px;height:30px"></div><div class="ttl" style="left:87px;top:657px;font-size:19.5px">趋势监测</div><div class="dv" style="left:53px;top:701px;width:582px"></div>
<div class="bar" style="left:673px;top:642px;height:34px"></div><div class="ttl" style="left:708px;top:657px;font-size:19.5px">趋势监测</div><div class="dv" style="left:674px;top:701px;width:582px"></div>
<div class="bar" style="left:1288px;top:653px;height:30px"></div><div class="ttl" style="left:1323px;top:657px;font-size:19.5px">趋势监测</div><div class="dv" style="left:1289px;top:701px;width:582px"></div>
<svg class="ov" width="1920" height="1080" viewBox="0 0 1920 1080"><line x1="135.0" y1="733.0" x2="613.0" y2="733.0" stroke="#1d477c" stroke-width="1.2"/><line x1="135.0" y1="750.0" x2="613.0" y2="750.0" stroke="#1d477c" stroke-width="1.2"/><line x1="135.0" y1="767.0" x2="613.0" y2="767.0" stroke="#1d477c" stroke-width="1.2"/><line x1="135.0" y1="784.0" x2="613.0" y2="784.0" stroke="#1d477c" stroke-width="1.2"/><line x1="135.0" y1="801.0" x2="613.0" y2="801.0" stroke="#2a67ad" stroke-width="2"/><rect x="135.0" y="733.0" width="478.0" height="17.0" fill="#1a3c6c" opacity="0.16"/><rect x="135.0" y="767.0" width="478.0" height="17.0" fill="#1a3c6c" opacity="0.16"/><line x1="135.0" y1="729.0" x2="135.0" y2="801.0" stroke="#2a67ad" stroke-width="2"/><text x="126.0" y="737.5" text-anchor="end" class="ax">4</text><text x="126.0" y="754.5" text-anchor="end" class="ax">3</text><text x="126.0" y="771.5" text-anchor="end" class="ax">2</text><text x="126.0" y="788.5" text-anchor="end" class="ax">1</text><text x="126.0" y="805.5" text-anchor="end" class="ax">0</text><text x="181.6" y="815.5" text-anchor="middle" class="ax">08:15</text><text x="234.7" y="815.5" text-anchor="middle" class="ax">08:18</text><text x="286.0" y="815.5" text-anchor="middle" class="ax">08:21</text><text x="339.0" y="815.5" text-anchor="middle" class="ax">08:24</text><text x="390.0" y="815.5" text-anchor="middle" class="ax">08:27</text><text x="443.0" y="815.5" text-anchor="middle" class="ax">08:30</text><text x="501.0" y="815.5" text-anchor="middle" class="ax">08:33</text><text x="560.0" y="815.5" text-anchor="middle" class="ax">08:36</text><text x="80.7" y="742.6" text-anchor="middle" class="vl" font-size="17">油</text><text x="80.7" y="760.6" text-anchor="middle" class="vl" font-size="17">品</text><text x="80.7" y="778.6" text-anchor="middle" class="vl" font-size="17">品</text><text x="80.7" y="796.6" text-anchor="middle" class="vl" font-size="17">质</text><text x="611.0" y="726.0" text-anchor="end" class="un">2.14</text><line x1="135.0" y1="840.0" x2="613.0" y2="840.0" stroke="#1d477c" stroke-width="1.2"/><line x1="135.0" y1="857.0" x2="613.0" y2="857.0" stroke="#1d477c" stroke-width="1.2"/><line x1="135.0" y1="874.0" x2="613.0" y2="874.0" stroke="#1d477c" stroke-width="1.2"/><line x1="135.0" y1="891.0" x2="613.0" y2="891.0" stroke="#1d477c" stroke-width="1.2"/><line x1="135.0" y1="908.0" x2="613.0" y2="908.0" stroke="#2a67ad" stroke-width="2"/><rect x="135.0" y="840.0" width="478.0" height="17.0" fill="#1a3c6c" opacity="0.16"/><rect x="135.0" y="874.0" width="478.0" height="17.0" fill="#1a3c6c" opacity="0.16"/><line x1="135.0" y1="836.0" x2="135.0" y2="908.0" stroke="#2a67ad" stroke-width="2"/><text x="126.0" y="844.5" text-anchor="end" class="ax">1,200</text><text x="126.0" y="861.5" text-anchor="end" class="ax">900</text><text x="126.0" y="878.5" text-anchor="end" class="ax">600</text><text x="126.0" y="895.5" text-anchor="end" class="ax">300</text><text x="126.0" y="912.5" text-anchor="end" class="ax">0</text><text x="181.6" y="921.0" text-anchor="middle" class="ax">08:15</text><text x="234.7" y="921.0" text-anchor="middle" class="ax">08:18</text><text x="286.0" y="921.0" text-anchor="middle" class="ax">08:21</text><text x="339.0" y="921.0" text-anchor="middle" class="ax">08:24</text><text x="390.0" y="921.0" text-anchor="middle" class="ax">08:27</text><text x="443.0" y="921.0" text-anchor="middle" class="ax">08:30</text><text x="501.0" y="921.0" text-anchor="middle" class="ax">08:33</text><text x="560.0" y="921.0" text-anchor="middle" class="ax">08:36</text><text x="80.7" y="867.6" text-anchor="middle" class="vl" font-size="17">密</text><text x="80.7" y="885.6" text-anchor="middle" class="vl" font-size="17">度</text><text x="611.0" y="833.0" text-anchor="end" class="un">841.85 kg/m³</text><line x1="135.0" y1="946.6" x2="613.0" y2="946.6" stroke="#1d477c" stroke-width="1.2"/><line x1="135.0" y1="963.5" x2="613.0" y2="963.5" stroke="#1d477c" stroke-width="1.2"/><line x1="135.0" y1="980.3" x2="613.0" y2="980.3" stroke="#1d477c" stroke-width="1.2"/><line x1="135.0" y1="997.1" x2="613.0" y2="997.1" stroke="#1d477c" stroke-width="1.2"/><line x1="135.0" y1="1014.0" x2="613.0" y2="1014.0" stroke="#2a67ad" stroke-width="2"/><rect x="135.0" y="946.6" width="478.0" height="16.8" fill="#1a3c6c" opacity="0.16"/><rect x="135.0" y="980.3" width="478.0" height="16.8" fill="#1a3c6c" opacity="0.16"/><line x1="135.0" y1="942.6" x2="135.0" y2="1014.0" stroke="#2a67ad" stroke-width="2"/><text x="126.0" y="951.1" text-anchor="end" class="ax">80</text><text x="126.0" y="968.0" text-anchor="end" class="ax">60</text><text x="126.0" y="984.8" text-anchor="end" class="ax">40</text><text x="126.0" y="1001.6" text-anchor="end" class="ax">20</text><text x="126.0" y="1018.5" text-anchor="end" class="ax">0</text><text x="181.6" y="1026.5" text-anchor="middle" class="ax">08:15</text><text x="234.7" y="1026.5" text-anchor="middle" class="ax">08:18</text><text x="286.0" y="1026.5" text-anchor="middle" class="ax">08:21</text><text x="339.0" y="1026.5" text-anchor="middle" class="ax">08:24</text><text x="390.0" y="1026.5" text-anchor="middle" class="ax">08:27</text><text x="443.0" y="1026.5" text-anchor="middle" class="ax">08:30</text><text x="501.0" y="1026.5" text-anchor="middle" class="ax">08:33</text><text x="560.0" y="1026.5" text-anchor="middle" class="ax">08:36</text><text x="80.7" y="973.9" text-anchor="middle" class="vl" font-size="17">温</text><text x="80.7" y="991.9" text-anchor="middle" class="vl" font-size="17">度</text><text x="611.0" y="939.6" text-anchor="end" class="un">31℃</text><polyline points="138.0,788.8 141.2,786.0 144.4,780.6 147.6,770.4 150.8,763.1 153.9,775.0 157.1,775.9 160.3,757.7 163.5,770.1 166.7,770.5 169.9,753.8 173.1,765.1 176.3,757.0 179.4,764.8 182.6,761.3 185.8,771.9 189.0,761.4 192.2,756.4 195.4,764.0 198.6,759.4 201.8,761.1 204.9,774.5 208.1,759.6 211.3,763.5 214.5,770.1 217.7,776.2 220.9,758.4 224.1,767.2 227.3,762.2 230.4,759.0 233.6,762.9 236.8,758.6 240.0,770.4 243.2,761.8 246.4,769.8 249.6,759.4 252.8,760.8 256.0,778.0 259.1,777.3 262.3,775.7 265.5,759.5 268.7,771.1 271.9,767.0 275.1,774.0 278.3,769.5 281.5,772.1 284.6,772.8 287.8,767.5 291.0,767.4 294.2,760.2 297.4,764.8 300.6,759.2 303.8,760.6 307.0,757.4 310.1,764.0 313.3,774.8 316.5,759.3 319.7,756.8 322.9,757.8 326.1,764.8 329.3,761.3 332.5,772.0 335.7,771.4 338.8,774.6 342.0,773.4 345.2,773.3 348.4,770.6 351.6,772.8 354.8,770.5 358.0,774.2 361.2,773.3 364.3,771.6 367.5,770.3 370.7,772.7 373.9,773.9 377.1,774.5 380.3,762.2 383.5,774.8 386.7,782.0 389.8,769.0 393.0,757.3 396.2,755.4 399.4,766.0 402.6,755.6 405.8,770.9 409.0,776.3 412.2,765.2 415.3,777.8 418.5,775.9 421.7,773.6 424.9,775.5 428.1,772.1 431.3,772.0 434.5,775.5 437.7,775.0 440.9,772.1 444.0,773.0 447.2,772.1 450.4,770.6 453.6,769.3 456.8,766.6 460.0,767.6 463.2,768.3 466.4,766.8 469.5,759.7 472.7,769.0 475.9,770.4 479.1,763.9 482.3,774.2 485.5,772.5 488.7,757.5 491.9,767.2 495.0,766.3 498.2,777.7 501.4,768.6 504.6,764.7 507.8,776.6 511.0,763.3 514.2,762.7 517.4,774.9 520.6,762.3 523.7,765.6 526.9,760.8 530.1,767.8 533.3,760.0 536.5,759.2 539.7,774.7 542.9,773.8 546.1,760.5 549.2,754.3 552.4,769.8 555.6,765.5 558.8,754.8 562.0,768.7 565.2,768.0 568.4,787.4 571.6,768.3 574.7,792.8 577.9,770.3 581.1,763.6 584.3,760.7 587.5,771.2 590.7,774.0 593.9,775.0 597.1,772.9 600.2,769.2 603.4,767.0 606.6,767.9 609.8,770.7 613.0,772.5" fill="none" stroke="#f0ee22" stroke-width="3.7" stroke-linejoin="round"/><polyline points="138.0,861.7 146.1,858.0 154.1,857.0 162.2,860.4 170.2,860.0 178.3,866.9 186.3,863.7 194.4,863.7 202.4,861.7 210.5,860.3 218.5,862.9 226.6,863.5 234.6,865.6 242.7,864.2 250.7,863.9 258.8,864.6 266.8,865.7 274.9,866.6 282.9,863.7 291.0,862.0 299.0,862.4 307.1,862.8 315.1,864.7 323.2,863.3 331.2,865.4 339.3,865.9 347.3,865.0 355.4,864.8 363.4,864.1 371.5,863.8 379.5,861.7 387.6,861.4 395.6,861.5 403.7,862.5 411.7,861.3 419.8,863.7 427.8,862.4 435.9,862.4 443.9,860.0 452.0,860.1 460.0,861.4 468.1,863.3 476.1,865.6 484.2,866.1 492.2,867.0 500.3,866.6 508.3,865.1 516.4,865.3 524.4,864.1 532.5,865.0 540.5,864.0 548.6,863.6 556.6,863.1 564.7,863.1 572.7,864.2 580.8,863.5 588.8,864.3 596.9,862.7 604.9,864.9 613.0,863.5" fill="none" stroke="#12c028" stroke-width="4.2" stroke-linejoin="round"/><polyline points="138.0,976.9 144.0,976.9 150.0,976.9 156.0,976.8 162.1,976.7 168.1,976.6 174.1,976.5 180.1,976.4 186.1,976.3 192.1,976.3 198.1,976.2 204.1,975.8 210.2,975.1 216.2,974.2 222.2,973.2 228.2,972.1 234.2,971.1 240.2,970.2 246.2,969.4 252.2,969.0 258.3,968.9 264.3,969.1 270.3,969.6 276.3,970.1 282.3,970.6 288.3,970.8 294.3,971.7 300.3,974.7 306.4,978.1 312.4,980.2 318.4,979.3 324.4,976.9 330.4,976.2 336.4,975.7 342.4,974.9 348.4,974.0 354.5,973.1 360.5,972.4 366.5,972.2 372.5,971.5 378.5,970.0 384.5,968.7 390.5,968.2 396.5,971.3 402.6,976.3 408.6,978.9 414.6,978.6 420.6,977.9 426.6,977.2 432.6,976.9 438.6,976.7 444.6,976.1 450.7,975.5 456.7,975.0 462.7,974.9 468.7,975.4 474.7,976.2 480.7,977.0 486.7,977.5 492.7,977.5 498.8,976.9 504.8,976.1 510.8,975.3 516.8,974.9 522.8,976.3 528.8,979.5 534.8,980.1 540.8,978.7 546.9,976.7 552.9,975.2 558.9,975.1 564.9,976.6 570.9,978.6 576.9,980.1 582.9,980.3 588.9,980.6 595.0,980.9 601.0,981.2 607.0,981.5 613.0,981.6" fill="none" stroke="#2b72d4" stroke-width="4.0" stroke-linejoin="round"/><line x1="738.6" y1="733.0" x2="1229.0" y2="733.0" stroke="#1d477c" stroke-width="1.2"/><line x1="738.6" y1="750.0" x2="1229.0" y2="750.0" stroke="#1d477c" stroke-width="1.2"/><line x1="738.6" y1="767.0" x2="1229.0" y2="767.0" stroke="#1d477c" stroke-width="1.2"/><line x1="738.6" y1="784.0" x2="1229.0" y2="784.0" stroke="#1d477c" stroke-width="1.2"/><line x1="738.6" y1="801.0" x2="1229.0" y2="801.0" stroke="#2a67ad" stroke-width="2"/><rect x="738.6" y="733.0" width="490.4" height="17.0" fill="#1a3c6c" opacity="0.16"/><rect x="738.6" y="767.0" width="490.4" height="17.0" fill="#1a3c6c" opacity="0.16"/><line x1="738.6" y1="729.0" x2="738.6" y2="801.0" stroke="#2a67ad" stroke-width="2"/><text x="729.6" y="737.5" text-anchor="end" class="ax">80</text><text x="729.6" y="754.5" text-anchor="end" class="ax">60</text><text x="729.6" y="771.5" text-anchor="end" class="ax">40</text><text x="729.6" y="788.5" text-anchor="end" class="ax">20</text><text x="729.6" y="805.5" text-anchor="end" class="ax">0</text><text x="783.0" y="815.5" text-anchor="middle" class="ax">08:15</text><text x="835.6" y="815.5" text-anchor="middle" class="ax">08:18</text><text x="887.0" y="815.5" text-anchor="middle" class="ax">08:21</text><text x="936.5" y="815.5" text-anchor="middle" class="ax">08:24</text><text x="989.6" y="815.5" text-anchor="middle" class="ax">08:27</text><text x="1043.8" y="815.5" text-anchor="middle" class="ax">08:30</text><text x="1099.0" y="815.5" text-anchor="middle" class="ax">08:33</text><text x="1160.7" y="815.5" text-anchor="middle" class="ax">08:36</text><text x="704.0" y="742.6" text-anchor="middle" class="vl" font-size="17">含</text><text x="704.0" y="760.6" text-anchor="middle" class="vl" font-size="17">气</text><text x="704.0" y="778.6" text-anchor="middle" class="vl" font-size="17">粘</text><text x="704.0" y="796.6" text-anchor="middle" class="vl" font-size="17">度</text><text x="1228.0" y="726.0" text-anchor="end" class="un">45.99 cst</text><rect x="776.8" y="787.0" width="12.5" height="14.0" fill="#46e2f3"/><rect x="829.4" y="776.5" width="12.5" height="24.5" fill="#46e2f3"/><rect x="880.8" y="781.0" width="12.5" height="20.0" fill="#46e2f3"/><rect x="930.2" y="776.5" width="12.5" height="24.5" fill="#46e2f3"/><rect x="983.4" y="787.0" width="12.5" height="14.0" fill="#46e2f3"/><rect x="1037.5" y="783.0" width="12.5" height="18.0" fill="#46e2f3"/><rect x="1092.8" y="748.5" width="12.5" height="52.5" fill="#46e2f3"/><rect x="1154.5" y="783.0" width="12.5" height="18.0" fill="#46e2f3"/><line x1="738.6" y1="840.0" x2="1229.0" y2="840.0" stroke="#1d477c" stroke-width="1.2"/><line x1="738.6" y1="857.0" x2="1229.0" y2="857.0" stroke="#1d477c" stroke-width="1.2"/><line x1="738.6" y1="874.0" x2="1229.0" y2="874.0" stroke="#1d477c" stroke-width="1.2"/><line x1="738.6" y1="891.0" x2="1229.0" y2="891.0" stroke="#1d477c" stroke-width="1.2"/><line x1="738.6" y1="908.0" x2="1229.0" y2="908.0" stroke="#2a67ad" stroke-width="2"/><rect x="738.6" y="840.0" width="490.4" height="17.0" fill="#1a3c6c" opacity="0.16"/><rect x="738.6" y="874.0" width="490.4" height="17.0" fill="#1a3c6c" opacity="0.16"/><line x1="738.6" y1="836.0" x2="738.6" y2="908.0" stroke="#2a67ad" stroke-width="2"/><text x="729.6" y="844.5" text-anchor="end" class="ax">4</text><text x="729.6" y="861.5" text-anchor="end" class="ax">3</text><text x="729.6" y="878.5" text-anchor="end" class="ax">2</text><text x="729.6" y="895.5" text-anchor="end" class="ax">1</text><text x="729.6" y="912.5" text-anchor="end" class="ax">0</text><text x="783.0" y="921.0" text-anchor="middle" class="ax">08:15</text><text x="835.6" y="921.0" text-anchor="middle" class="ax">08:18</text><text x="887.0" y="921.0" text-anchor="middle" class="ax">08:21</text><text x="936.5" y="921.0" text-anchor="middle" class="ax">08:24</text><text x="989.6" y="921.0" text-anchor="middle" class="ax">08:27</text><text x="1043.8" y="921.0" text-anchor="middle" class="ax">08:30</text><text x="1099.0" y="921.0" text-anchor="middle" class="ax">08:33</text><text x="1160.7" y="921.0" text-anchor="middle" class="ax">08:36</text><text x="704.0" y="858.6" text-anchor="middle" class="vl" font-size="17">含</text><text x="704.0" y="876.6" text-anchor="middle" class="vl" font-size="17">水</text><text x="704.0" y="894.6" text-anchor="middle" class="vl" font-size="17">量</text><text x="1228.0" y="833.0" text-anchor="end" class="un">2ppm</text><rect x="776.8" y="900.6" width="12.5" height="7.4" fill="#ffff00"/><rect x="829.4" y="875.0" width="12.5" height="33.0" fill="#ffff00"/><rect x="880.8" y="875.0" width="12.5" height="33.0" fill="#ffff00"/><rect x="930.2" y="872.0" width="12.5" height="36.0" fill="#ffff00"/><rect x="983.4" y="863.5" width="12.5" height="44.5" fill="#ffff00"/><rect x="1037.5" y="871.0" width="12.5" height="37.0" fill="#ffff00"/><rect x="1092.8" y="847.0" width="12.5" height="61.0" fill="#ffff00"/><rect x="1154.5" y="871.0" width="12.5" height="37.0" fill="#ffff00"/><line x1="738.6" y1="946.6" x2="1229.0" y2="946.6" stroke="#1d477c" stroke-width="1.2"/><line x1="738.6" y1="963.5" x2="1229.0" y2="963.5" stroke="#1d477c" stroke-width="1.2"/><line x1="738.6" y1="980.3" x2="1229.0" y2="980.3" stroke="#1d477c" stroke-width="1.2"/><line x1="738.6" y1="997.1" x2="1229.0" y2="997.1" stroke="#1d477c" stroke-width="1.2"/><line x1="738.6" y1="1014.0" x2="1229.0" y2="1014.0" stroke="#2a67ad" stroke-width="2"/><rect x="738.6" y="946.6" width="490.4" height="16.8" fill="#1a3c6c" opacity="0.16"/><rect x="738.6" y="980.3" width="490.4" height="16.8" fill="#1a3c6c" opacity="0.16"/><line x1="738.6" y1="942.6" x2="738.6" y2="1014.0" stroke="#2a67ad" stroke-width="2"/><text x="729.6" y="951.1" text-anchor="end" class="ax">8</text><text x="729.6" y="968.0" text-anchor="end" class="ax">6</text><text x="729.6" y="984.8" text-anchor="end" class="ax">4</text><text x="729.6" y="1001.6" text-anchor="end" class="ax">2</text><text x="729.6" y="1018.5" text-anchor="end" class="ax">0</text><text x="783.0" y="1026.5" text-anchor="middle" class="ax">08:15</text><text x="835.6" y="1026.5" text-anchor="middle" class="ax">08:18</text><text x="887.0" y="1026.5" text-anchor="middle" class="ax">08:21</text><text x="936.5" y="1026.5" text-anchor="middle" class="ax">08:24</text><text x="989.6" y="1026.5" text-anchor="middle" class="ax">08:27</text><text x="1043.8" y="1026.5" text-anchor="middle" class="ax">08:30</text><text x="1099.0" y="1026.5" text-anchor="middle" class="ax">08:33</text><text x="1160.7" y="1026.5" text-anchor="middle" class="ax">08:36</text><text x="704.0" y="964.9" text-anchor="middle" class="vl" font-size="17">污</text><text x="704.0" y="982.9" text-anchor="middle" class="vl" font-size="17">染</text><text x="704.0" y="1000.9" text-anchor="middle" class="vl" font-size="17">度</text><text x="1228.0" y="939.6" text-anchor="end" class="un">nas1638 4级</text><rect x="776.8" y="983.0" width="12.5" height="31.0" fill="#48b8ff"/><rect x="829.4" y="989.5" width="12.5" height="24.5" fill="#48b8ff"/><rect x="880.8" y="976.4" width="12.5" height="37.6" fill="#48b8ff"/><rect x="930.2" y="983.0" width="12.5" height="31.0" fill="#48b8ff"/><rect x="983.4" y="983.0" width="12.5" height="31.0" fill="#48b8ff"/><rect x="1037.5" y="973.5" width="12.5" height="40.5" fill="#48b8ff"/><rect x="1092.8" y="957.0" width="12.5" height="57.0" fill="#48b8ff"/><rect x="1154.5" y="973.5" width="12.5" height="40.5" fill="#48b8ff"/><line x1="836.5" y1="952" x2="836.5" y2="990" stroke="#3b6fb0" stroke-width="1.5"/><rect x="853.0" y="956.0" width="62" height="22" fill="#3d5f92" opacity=".92"/><text x="856.0" y="964.0" font-size="7" fill="#dfe8f7">2023-02-12 08:18</text><text x="856.0" y="973.0" font-size="7" fill="#dfe8f7">污染度: 3</text><line x1="1374.0" y1="733.0" x2="1853.0" y2="733.0" stroke="#1d477c" stroke-width="1.2"/><line x1="1374.0" y1="750.0" x2="1853.0" y2="750.0" stroke="#1d477c" stroke-width="1.2"/><line x1="1374.0" y1="767.0" x2="1853.0" y2="767.0" stroke="#1d477c" stroke-width="1.2"/><line x1="1374.0" y1="784.0" x2="1853.0" y2="784.0" stroke="#1d477c" stroke-width="1.2"/><line x1="1374.0" y1="801.0" x2="1853.0" y2="801.0" stroke="#2a67ad" stroke-width="2"/><rect x="1374.0" y="733.0" width="479.0" height="17.0" fill="#1a3c6c" opacity="0.16"/><rect x="1374.0" y="767.0" width="479.0" height="17.0" fill="#1a3c6c" opacity="0.16"/><line x1="1374.0" y1="729.0" x2="1374.0" y2="801.0" stroke="#2a67ad" stroke-width="2"/><text x="1365.0" y="737.5" text-anchor="end" class="ax">1</text><text x="1365.0" y="754.5" text-anchor="end" class="ax">0.75</text><text x="1365.0" y="771.5" text-anchor="end" class="ax">0.5</text><text x="1365.0" y="788.5" text-anchor="end" class="ax">0.25</text><text x="1365.0" y="805.5" text-anchor="end" class="ax">0</text><text x="1425.0" y="815.5" text-anchor="middle" class="ax">08:15</text><text x="1479.0" y="815.5" text-anchor="middle" class="ax">08:18</text><text x="1531.0" y="815.5" text-anchor="middle" class="ax">08:21</text><text x="1583.0" y="815.5" text-anchor="middle" class="ax">08:24</text><text x="1635.0" y="815.5" text-anchor="middle" class="ax">08:27</text><text x="1688.0" y="815.5" text-anchor="middle" class="ax">08:30</text><text x="1745.0" y="815.5" text-anchor="middle" class="ax">08:33</text><text x="1800.5" y="815.5" text-anchor="middle" class="ax">08:36</text><text x="1320.0" y="751.6" text-anchor="middle" class="vl" font-size="17">饱</text><text x="1320.0" y="769.6" text-anchor="middle" class="vl" font-size="17">和</text><text x="1320.0" y="787.6" text-anchor="middle" class="vl" font-size="17">度</text><line x1="1374.0" y1="840.0" x2="1853.0" y2="840.0" stroke="#1d477c" stroke-width="1.2"/><line x1="1374.0" y1="857.0" x2="1853.0" y2="857.0" stroke="#1d477c" stroke-width="1.2"/><line x1="1374.0" y1="874.0" x2="1853.0" y2="874.0" stroke="#1d477c" stroke-width="1.2"/><line x1="1374.0" y1="891.0" x2="1853.0" y2="891.0" stroke="#1d477c" stroke-width="1.2"/><line x1="1374.0" y1="908.0" x2="1853.0" y2="908.0" stroke="#2a67ad" stroke-width="2"/><rect x="1374.0" y="840.0" width="479.0" height="17.0" fill="#1a3c6c" opacity="0.16"/><rect x="1374.0" y="874.0" width="479.0" height="17.0" fill="#1a3c6c" opacity="0.16"/><line x1="1374.0" y1="836.0" x2="1374.0" y2="908.0" stroke="#2a67ad" stroke-width="2"/><text x="1365.0" y="844.5" text-anchor="end" class="ax">4</text><text x="1365.0" y="861.5" text-anchor="end" class="ax">3</text><text x="1365.0" y="878.5" text-anchor="end" class="ax">2</text><text x="1365.0" y="895.5" text-anchor="end" class="ax">1</text><text x="1365.0" y="912.5" text-anchor="end" class="ax">0</text><text x="1425.0" y="921.0" text-anchor="middle" class="ax">08:15</text><text x="1479.0" y="921.0" text-anchor="middle" class="ax">08:18</text><text x="1531.0" y="921.0" text-anchor="middle" class="ax">08:21</text><text x="1583.0" y="921.0" text-anchor="middle" class="ax">08:24</text><text x="1635.0" y="921.0" text-anchor="middle" class="ax">08:27</text><text x="1688.0" y="921.0" text-anchor="middle" class="ax">08:30</text><text x="1745.0" y="921.0" text-anchor="middle" class="ax">08:33</text><text x="1800.5" y="921.0" text-anchor="middle" class="ax">08:36</text><text x="1320.0" y="858.6" text-anchor="middle" class="vl" font-size="17">含</text><text x="1320.0" y="876.6" text-anchor="middle" class="vl" font-size="17">水</text><text x="1320.0" y="894.6" text-anchor="middle" class="vl" font-size="17">量</text><line x1="1374.0" y1="946.6" x2="1853.0" y2="946.6" stroke="#1d477c" stroke-width="1.2"/><line x1="1374.0" y1="963.5" x2="1853.0" y2="963.5" stroke="#1d477c" stroke-width="1.2"/><line x1="1374.0" y1="980.3" x2="1853.0" y2="980.3" stroke="#1d477c" stroke-width="1.2"/><line x1="1374.0" y1="997.1" x2="1853.0" y2="997.1" stroke="#1d477c" stroke-width="1.2"/><line x1="1374.0" y1="1014.0" x2="1853.0" y2="1014.0" stroke="#2a67ad" stroke-width="2"/><rect x="1374.0" y="946.6" width="479.0" height="16.8" fill="#1a3c6c" opacity="0.16"/><rect x="1374.0" y="980.3" width="479.0" height="16.8" fill="#1a3c6c" opacity="0.16"/><line x1="1374.0" y1="942.6" x2="1374.0" y2="1014.0" stroke="#2a67ad" stroke-width="2"/><text x="1365.0" y="951.1" text-anchor="end" class="ax">80</text><text x="1365.0" y="968.0" text-anchor="end" class="ax">60</text><text x="1365.0" y="984.8" text-anchor="end" class="ax">40</text><text x="1365.0" y="1001.6" text-anchor="end" class="ax">20</text><text x="1365.0" y="1018.5" text-anchor="end" class="ax">0</text><text x="1425.0" y="1026.5" text-anchor="middle" class="ax">08:15</text><text x="1479.0" y="1026.5" text-anchor="middle" class="ax">08:18</text><text x="1531.0" y="1026.5" text-anchor="middle" class="ax">08:21</text><text x="1583.0" y="1026.5" text-anchor="middle" class="ax">08:24</text><text x="1635.0" y="1026.5" text-anchor="middle" class="ax">08:27</text><text x="1688.0" y="1026.5" text-anchor="middle" class="ax">08:30</text><text x="1745.0" y="1026.5" text-anchor="middle" class="ax">08:33</text><text x="1800.5" y="1026.5" text-anchor="middle" class="ax">08:36</text><text x="1320.0" y="973.9" text-anchor="middle" class="vl" font-size="17">温</text><text x="1320.0" y="991.9" text-anchor="middle" class="vl" font-size="17">度</text><text x="1834" y="726.0" text-anchor="end" class="un" style="fill:#e8364a">86%</text><text x="1852" y="833.0" text-anchor="end" class="un">2ppm</text><text x="1852" y="939.6" text-anchor="end" class="un">31℃</text><polyline points="1377.0,780.6 1380.2,777.9 1383.4,772.4 1386.6,762.2 1389.8,754.9 1393.0,766.9 1396.2,767.8 1399.4,749.6 1402.6,762.0 1405.8,762.3 1408.9,745.6 1412.1,756.9 1415.3,748.9 1418.5,756.7 1421.7,753.1 1424.9,763.7 1428.1,753.2 1431.3,748.2 1434.5,755.9 1437.7,751.3 1440.9,752.9 1444.1,766.4 1447.3,751.5 1450.5,755.4 1453.7,761.9 1456.9,768.1 1460.1,750.2 1463.3,759.0 1466.4,754.0 1469.6,750.8 1472.8,754.7 1476.0,750.5 1479.2,762.2 1482.4,753.7 1485.6,761.7 1488.8,751.2 1492.0,752.7 1495.2,769.8 1498.4,769.2 1501.6,767.5 1504.8,751.3 1508.0,762.9 1511.2,758.8 1514.4,765.9 1517.6,761.4 1520.8,763.9 1524.0,764.6 1527.1,759.4 1530.3,759.2 1533.5,752.1 1536.7,756.7 1539.9,751.1 1543.1,752.4 1546.3,749.2 1549.5,755.9 1552.7,766.6 1555.9,751.2 1559.1,748.6 1562.3,749.6 1565.5,756.6 1568.7,753.2 1571.9,763.8 1575.1,763.2 1578.3,766.4 1581.5,765.2 1584.7,765.2 1587.8,762.5 1591.0,764.6 1594.2,762.3 1597.4,766.1 1600.6,765.2 1603.8,763.5 1607.0,762.2 1610.2,764.5 1613.4,765.8 1616.6,766.3 1619.8,754.1 1623.0,766.7 1626.2,773.8 1629.4,760.9 1632.6,749.2 1635.8,747.3 1639.0,757.9 1642.2,747.4 1645.3,762.7 1648.5,768.1 1651.7,757.0 1654.9,769.7 1658.1,767.7 1661.3,765.5 1664.5,767.3 1667.7,764.0 1670.9,763.8 1674.1,767.4 1677.3,766.8 1680.5,764.0 1683.7,764.9 1686.9,764.0 1690.1,762.4 1693.3,761.1 1696.5,758.4 1699.7,759.4 1702.9,760.1 1706.0,758.7 1709.2,751.6 1712.4,760.8 1715.6,762.3 1718.8,755.8 1722.0,766.0 1725.2,764.4 1728.4,749.4 1731.6,759.0 1734.8,758.1 1738.0,769.5 1741.2,760.4 1744.4,756.5 1747.6,768.4 1750.8,755.2 1754.0,754.6 1757.2,766.8 1760.4,754.2 1763.6,757.5 1766.7,752.7 1769.9,759.6 1773.1,751.8 1776.3,751.0 1779.5,766.5 1782.7,765.7 1785.9,752.3 1789.1,746.1 1792.3,761.7 1795.5,757.3 1798.7,746.6 1801.9,760.6 1805.1,759.8 1808.3,779.2 1811.5,760.2 1814.7,784.7 1817.9,762.2 1821.1,755.4 1824.2,752.5 1827.4,763.0 1830.6,765.9 1833.8,766.9 1837.0,764.7 1840.2,761.1 1843.4,758.9 1846.6,759.8 1849.8,762.6 1853.0,764.3" fill="none" stroke="#f0ee22" stroke-width="3.7" stroke-linejoin="round"/><polyline points="1377.0,870.6 1386.5,853.6 1396.0,853.6 1398.4,879.4 1405.6,879.4 1419.8,895.8 1424.6,895.8 1429.4,870.6 1434.1,867.2 1443.6,879.4 1462.7,868.6 1469.8,874.0 1472.2,853.6 1484.1,853.6 1488.9,879.4 1500.8,867.2 1515.0,879.4 1534.1,853.6 1543.6,867.2 1550.7,853.6 1562.6,867.2 1576.9,879.4 1610.2,879.4 1634.0,853.6 1648.3,853.6 1650.7,867.2 1657.8,867.2 1667.4,879.4 1672.1,867.2 1679.3,867.2 1695.9,879.4 1729.2,879.4 1731.6,867.2 1772.1,867.2 1791.1,879.4 1800.6,867.2 1817.3,867.2 1824.4,879.4 1853.0,879.4" fill="none" stroke="#12c028" stroke-width="4.6" stroke-linejoin="round"/><polyline points="1377.0,976.9 1383.0,976.9 1389.1,976.9 1395.1,976.8 1401.1,976.7 1407.1,976.6 1413.2,976.5 1419.2,976.4 1425.2,976.3 1431.2,976.3 1437.3,976.2 1443.3,975.8 1449.3,975.1 1455.3,974.2 1461.4,973.2 1467.4,972.1 1473.4,971.1 1479.4,970.2 1485.5,969.4 1491.5,969.0 1497.5,968.9 1503.5,969.1 1509.6,969.6 1515.6,970.1 1521.6,970.6 1527.6,970.8 1533.7,971.7 1539.7,974.7 1545.7,978.1 1551.7,980.2 1557.8,979.3 1563.8,976.9 1569.8,976.2 1575.8,975.7 1581.9,974.9 1587.9,974.0 1593.9,973.1 1599.9,972.4 1606.0,972.2 1612.0,971.5 1618.0,970.0 1624.0,968.7 1630.1,968.2 1636.1,971.3 1642.1,976.3 1648.1,978.9 1654.2,978.6 1660.2,977.9 1666.2,977.2 1672.2,976.9 1678.3,976.7 1684.3,976.1 1690.3,975.5 1696.3,975.0 1702.4,974.9 1708.4,975.4 1714.4,976.2 1720.4,977.0 1726.5,977.5 1732.5,977.5 1738.5,976.9 1744.5,976.1 1750.6,975.3 1756.6,974.9 1762.6,976.3 1768.6,979.5 1774.7,980.1 1780.7,978.7 1786.7,976.7 1792.7,975.2 1798.8,975.1 1804.8,976.6 1810.8,978.6 1816.8,980.1 1822.9,980.3 1828.9,980.6 1834.9,980.9 1840.9,981.2 1847.0,981.5 1853.0,981.6" fill="none" stroke="#2b72d4" stroke-width="4.0" stroke-linejoin="round"/></svg></div>
</body></html>
